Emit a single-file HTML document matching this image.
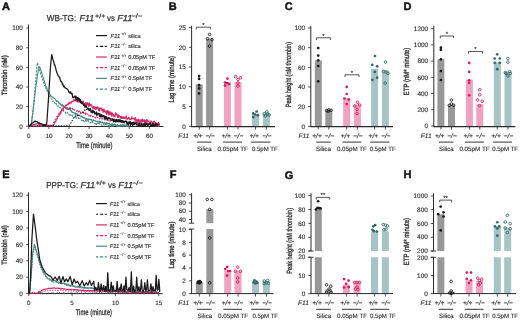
<!DOCTYPE html>
<html><head><meta charset="utf-8"><style>
html,body{margin:0;padding:0;background:#fff;overflow:hidden;}
svg{display:block;font-family:"Liberation Sans", sans-serif;will-change:transform;}
text{stroke:#333;stroke-width:0.15px;text-rendering:geometricPrecision;}
</style></head><body>
<svg width="520" height="320" viewBox="0 0 520 320">
<rect width="520" height="320" fill="#fff"/>
<text x="2" y="9.6" font-size="11" text-anchor="start" font-weight="bold" font-style="normal" fill="#111" style="stroke:#111;stroke-width:0.45px">A</text>
<text x="46.8" y="20.70" font-size="8.6" font-style="normal" fill="#333" textLength="29.4" lengthAdjust="spacingAndGlyphs" style="stroke-width:0.25px">WB-TG:</text>
<text x="79.6" y="20.70" font-size="8.6" font-style="italic" fill="#333" textLength="14.6" lengthAdjust="spacingAndGlyphs" style="stroke-width:0.25px">F11</text>
<text x="95.1" y="17.50" font-size="6.0" font-style="normal" fill="#333" textLength="10.3" lengthAdjust="spacingAndGlyphs" style="stroke-width:0.25px">+/+</text>
<text x="107.0" y="20.70" font-size="8.6" font-style="normal" fill="#333" textLength="7.9" lengthAdjust="spacingAndGlyphs" style="stroke-width:0.25px">vs</text>
<text x="117.2" y="20.70" font-size="8.6" font-style="italic" fill="#333" textLength="15.2" lengthAdjust="spacingAndGlyphs" style="stroke-width:0.25px">F11</text>
<text x="131.4" y="17.50" font-size="6.0" font-style="normal" fill="#333" textLength="11.0" lengthAdjust="spacingAndGlyphs" style="stroke-width:0.25px">−/−</text>
<line x1="28.50" y1="24.50" x2="28.50" y2="127.00" stroke="#2a2a2a" stroke-width="1"/>
<line x1="28.00" y1="126.50" x2="163.50" y2="126.50" stroke="#2a2a2a" stroke-width="1"/>
<line x1="26.20" y1="126.30" x2="28.50" y2="126.30" stroke="#2a2a2a" stroke-width="0.8"/>
<text x="22.8" y="128.5" font-size="6.4" text-anchor="end" font-weight="normal" font-style="normal" fill="#333">0</text>
<line x1="26.20" y1="106.66" x2="28.50" y2="106.66" stroke="#2a2a2a" stroke-width="0.8"/>
<text x="22.8" y="108.86" font-size="6.4" text-anchor="end" font-weight="normal" font-style="normal" fill="#333">20</text>
<line x1="26.20" y1="87.02" x2="28.50" y2="87.02" stroke="#2a2a2a" stroke-width="0.8"/>
<text x="22.8" y="89.22" font-size="6.4" text-anchor="end" font-weight="normal" font-style="normal" fill="#333">40</text>
<line x1="26.20" y1="67.38" x2="28.50" y2="67.38" stroke="#2a2a2a" stroke-width="0.8"/>
<text x="22.8" y="69.58" font-size="6.4" text-anchor="end" font-weight="normal" font-style="normal" fill="#333">60</text>
<line x1="26.20" y1="47.74" x2="28.50" y2="47.74" stroke="#2a2a2a" stroke-width="0.8"/>
<text x="22.8" y="49.94" font-size="6.4" text-anchor="end" font-weight="normal" font-style="normal" fill="#333">80</text>
<line x1="26.20" y1="28.10" x2="28.50" y2="28.10" stroke="#2a2a2a" stroke-width="0.8"/>
<text x="22.8" y="30.3" font-size="6.4" text-anchor="end" font-weight="normal" font-style="normal" fill="#333">100</text>
<line x1="28.80" y1="126.50" x2="28.80" y2="129.00" stroke="#2a2a2a" stroke-width="0.8"/>
<text x="28.8" y="138.2" font-size="6.2" text-anchor="middle" font-weight="normal" font-style="normal" fill="#333">0</text>
<line x1="48.90" y1="126.50" x2="48.90" y2="129.00" stroke="#2a2a2a" stroke-width="0.8"/>
<text x="48.9" y="138.2" font-size="6.2" text-anchor="middle" font-weight="normal" font-style="normal" fill="#333">10</text>
<line x1="69.00" y1="126.50" x2="69.00" y2="129.00" stroke="#2a2a2a" stroke-width="0.8"/>
<text x="69.0" y="138.2" font-size="6.2" text-anchor="middle" font-weight="normal" font-style="normal" fill="#333">20</text>
<line x1="89.10" y1="126.50" x2="89.10" y2="129.00" stroke="#2a2a2a" stroke-width="0.8"/>
<text x="89.1" y="138.2" font-size="6.2" text-anchor="middle" font-weight="normal" font-style="normal" fill="#333">30</text>
<line x1="109.20" y1="126.50" x2="109.20" y2="129.00" stroke="#2a2a2a" stroke-width="0.8"/>
<text x="109.19999999999999" y="138.2" font-size="6.2" text-anchor="middle" font-weight="normal" font-style="normal" fill="#333">40</text>
<line x1="129.30" y1="126.50" x2="129.30" y2="129.00" stroke="#2a2a2a" stroke-width="0.8"/>
<text x="129.29999999999998" y="138.2" font-size="6.2" text-anchor="middle" font-weight="normal" font-style="normal" fill="#333">50</text>
<line x1="149.40" y1="126.50" x2="149.40" y2="129.00" stroke="#2a2a2a" stroke-width="0.8"/>
<text x="149.4" y="138.2" font-size="6.2" text-anchor="middle" font-weight="normal" font-style="normal" fill="#333">60</text>
<text x="76.2" y="148.2" font-size="8.2" fill="#333" textLength="36.2" lengthAdjust="spacingAndGlyphs" style="stroke-width:0.3px">Time (minute)</text>
<text x="6.90" y="75.30" font-size="7.6" text-anchor="middle" fill="#333" transform="rotate(-90 6.90 75.30)" textLength="40" lengthAdjust="spacingAndGlyphs" style="stroke-width:0.36px">Thrombin (nM)</text>
<line x1="96.0" y1="35.60" x2="106.9" y2="35.60" stroke="#1a1a1a" stroke-width="1.2"/>
<text x="110.60" y="37.60" font-size="5.9" font-style="italic" fill="#333">F11</text>
<text x="120.90" y="35.10" font-size="4.0" fill="#333" style="stroke-width:0.1px">+/+</text>
<text x="128.30" y="37.55" font-size="5.6" fill="#333">silica</text>
<line x1="96.0" y1="46.30" x2="106.9" y2="46.30" stroke="#1a1a1a" stroke-width="1.2" stroke-dasharray="2.1,1.7,3.4,1.5,2.4,9"/>
<text x="110.60" y="48.30" font-size="5.9" font-style="italic" fill="#333">F11</text>
<text x="120.90" y="45.80" font-size="4.0" fill="#333" style="stroke-width:0.1px">−/−</text>
<text x="128.30" y="48.25" font-size="5.6" fill="#333">silica</text>
<line x1="96.0" y1="57.00" x2="106.9" y2="57.00" stroke="#d42a6c" stroke-width="1.2"/>
<text x="110.60" y="59.00" font-size="5.9" font-style="italic" fill="#333">F11</text>
<text x="120.90" y="56.50" font-size="4.0" fill="#333" style="stroke-width:0.1px">+/+</text>
<text x="128.30" y="58.95" font-size="5.6" fill="#333">0.05pM TF</text>
<line x1="96.0" y1="67.70" x2="106.9" y2="67.70" stroke="#d42a6c" stroke-width="1.2" stroke-dasharray="2.1,1.7,3.4,1.5,2.4,9"/>
<text x="110.60" y="69.70" font-size="5.9" font-style="italic" fill="#333">F11</text>
<text x="120.90" y="67.20" font-size="4.0" fill="#333" style="stroke-width:0.1px">−/−</text>
<text x="128.30" y="69.65" font-size="5.6" fill="#333">0.05pM TF</text>
<line x1="96.0" y1="78.40" x2="106.9" y2="78.40" stroke="#478a83" stroke-width="1.2"/>
<text x="110.60" y="80.40" font-size="5.9" font-style="italic" fill="#333">F11</text>
<text x="120.90" y="77.90" font-size="4.0" fill="#333" style="stroke-width:0.1px">+/+</text>
<text x="128.30" y="80.35" font-size="5.6" fill="#333">0.5pM TF</text>
<line x1="96.0" y1="89.10" x2="106.9" y2="89.10" stroke="#478a83" stroke-width="1.2" stroke-dasharray="2.1,1.7,3.4,1.5,2.4,9"/>
<text x="110.60" y="91.10" font-size="5.9" font-style="italic" fill="#333">F11</text>
<text x="120.90" y="88.60" font-size="4.0" fill="#333" style="stroke-width:0.1px">−/−</text>
<text x="128.30" y="91.05" font-size="5.6" fill="#333">0.5pM TF</text>
<polyline points="28.80,126.30 29.30,126.17 29.80,126.17 30.31,125.93 30.81,125.82 31.31,125.16 31.82,120.69 32.32,116.00 32.82,112.13 33.32,107.93 33.83,103.24 34.33,99.31 34.83,94.86 35.33,90.83 35.84,86.94 36.34,83.54 36.84,79.58 37.34,75.76 37.84,73.38 38.35,70.94 38.85,68.67 39.35,66.72 39.86,67.03 40.36,68.60 40.86,70.25 41.36,71.96 41.86,73.34 42.37,75.44 42.87,76.87 43.37,78.07 43.88,79.91 44.38,81.02 44.88,83.57 45.38,84.29 45.88,86.50 46.39,86.95 46.89,88.04 47.39,90.56 47.89,91.47 48.40,92.29 48.90,91.80 49.40,93.82 49.91,94.34 50.41,95.48 50.91,95.59 51.41,96.33 51.91,96.91 52.42,96.96 52.92,97.47 53.42,97.34 53.92,98.29 54.43,98.31 54.93,98.96 55.43,99.20 55.94,100.29 56.44,101.68 56.94,100.71 57.44,100.90 57.94,101.41 58.45,102.46 58.95,102.57 59.45,103.95 59.95,103.12 60.46,104.02 60.96,104.98 61.46,105.81 61.97,104.61 62.47,104.64 62.97,106.71 63.47,105.61 63.97,106.68 64.48,107.49 64.98,107.50 65.48,106.87 65.98,106.97 66.49,108.89 66.99,108.07 67.49,109.49 67.99,108.46 68.50,109.52 69.00,108.76 69.50,108.88 70.00,110.13 70.51,109.48 71.01,111.16 71.51,111.93 72.02,111.22 72.52,112.66 73.02,112.65 73.52,112.56 74.02,112.48 74.53,113.69 75.03,114.24 75.53,112.90 76.03,114.26 76.54,113.28 77.04,113.68 77.54,114.98 78.05,115.10 78.55,115.26 79.05,115.30 79.55,115.67 80.05,116.03 80.56,116.19 81.06,115.78 81.56,116.83 82.06,117.18 82.57,116.81 83.07,117.96 83.57,118.04 84.07,116.91 84.58,118.01 85.08,118.15 85.58,119.34 86.08,118.68 86.59,118.50 87.09,119.73 87.59,118.70 88.09,118.80 88.60,120.06 89.10,119.08 89.60,119.53 90.10,119.25 90.61,120.02 91.11,119.46 91.61,119.54 92.11,121.08 92.62,121.14 93.12,120.06 93.62,119.60 94.12,121.10 94.63,120.80 95.13,120.63 95.63,121.27 96.13,121.28 96.64,121.48 97.14,121.47 97.64,121.13 98.14,121.81 98.65,121.76 99.15,121.09 99.65,122.65 100.15,121.69 100.66,121.48 101.16,122.43 101.66,122.71 102.16,121.68 102.67,122.91 103.17,123.12 103.67,122.75 104.17,122.34 104.68,123.63 105.18,123.31 105.68,123.40 106.18,122.53 106.69,123.42 107.19,122.71 107.69,124.17 108.19,123.96 108.70,123.45 109.20,123.10 109.70,124.07 110.20,124.61 110.71,124.89 111.21,124.16 111.71,124.90 112.21,123.76 112.72,123.77 113.22,125.13 113.72,125.02 114.22,124.06 114.73,124.45 115.23,124.21 115.73,125.18 116.23,125.68 116.74,125.44 117.24,124.52 117.74,125.63 118.24,125.55 118.75,125.49 119.25,125.55 119.75,125.65 120.25,124.69 120.76,126.21 121.26,126.30 121.76,124.70 122.26,124.84 122.77,124.64 123.27,125.75 123.77,124.75 124.27,124.81 124.78,126.21 125.28,125.20 125.78,125.04 126.28,125.39 126.79,125.69 127.29,126.16 127.79,126.07 128.29,126.30 128.80,126.30 129.30,125.63" fill="none" stroke="#478a83" stroke-width="1.1" stroke-linejoin="round"/>
<polyline points="28.80,126.30 29.30,126.30 29.80,126.14 30.31,126.17 30.81,126.11 31.31,123.66 31.82,119.74 32.32,116.30 32.82,112.82 33.32,108.84 33.83,103.82 34.33,98.81 34.83,92.37 35.33,85.90 35.84,79.33 36.34,73.51 36.84,68.17 37.34,62.78 37.84,63.36 38.35,65.79 38.85,67.80 39.35,69.59 39.86,71.15 40.36,72.70 40.86,74.30 41.36,76.34 41.86,77.48 42.37,78.90 42.87,80.44 43.37,82.54 43.88,83.41 44.38,85.62 44.88,85.25 45.38,86.56 45.88,88.35 46.39,90.01 46.89,89.98 47.39,91.81 47.89,92.37 48.40,93.61 48.90,95.45 49.40,96.30 49.91,96.59 50.41,97.58 50.91,98.77 51.41,99.15 51.91,98.82 52.42,100.99 52.92,101.64 53.42,101.17 53.92,102.51 54.43,102.54 54.93,103.10 55.43,103.80 55.94,102.95 56.44,104.97 56.94,104.99 57.44,105.84 57.94,105.44 58.45,106.58 58.95,106.86 59.45,106.54 59.95,107.82 60.46,107.78 60.96,107.53 61.46,109.53 61.97,110.03 62.47,110.12 62.97,109.49 63.47,110.21 63.97,111.37 64.48,111.61 64.98,112.34 65.48,112.21 65.98,113.45 66.49,112.44 66.99,112.32 67.49,112.48 67.99,113.19 68.50,113.02 69.00,115.15 69.50,114.89 70.00,113.84 70.51,114.49 71.01,115.48 71.51,114.63 72.02,115.46 72.52,115.27 73.02,116.50 73.52,116.90 74.02,116.60 74.53,117.40 75.03,117.12 75.53,116.17 76.03,117.61 76.54,118.44 77.04,118.57 77.54,118.52 78.05,117.51 78.55,118.54 79.05,118.87 79.55,119.45 80.05,117.91 80.56,119.20 81.06,119.81 81.56,120.30 82.06,120.50 82.57,120.48 83.07,119.67 83.57,120.90 84.07,121.31 84.58,120.62 85.08,121.29 85.58,119.94 86.08,121.78 86.59,121.10 87.09,120.74 87.59,121.58 88.09,120.56 88.60,121.68 89.10,122.26 89.60,122.05 90.10,122.90 90.61,122.27 91.11,122.73 91.61,121.59 92.11,121.82 92.62,122.59 93.12,123.63 93.62,123.31 94.12,123.45 94.63,123.64 95.13,123.71 95.63,122.58 96.13,124.13 96.64,124.42 97.14,122.82 97.64,123.65 98.14,122.94 98.65,124.21 99.15,123.35 99.65,123.91 100.15,123.71 100.66,123.87 101.16,124.43 101.66,125.28 102.16,125.12 102.67,123.89 103.17,123.90 103.67,123.92 104.17,125.15 104.68,124.59 105.18,124.38 105.68,124.75 106.18,124.48 106.69,125.12 107.19,124.94 107.69,124.94 108.19,125.83 108.70,124.62 109.20,124.62 109.70,126.30 110.20,124.61 110.71,124.64 111.21,125.22 111.71,126.30 112.21,124.79 112.72,126.30 113.22,124.67 113.72,125.27 114.22,126.30 114.73,126.28 115.23,125.37 115.73,125.51 116.23,125.17 116.74,124.82 117.24,126.22 117.74,126.30 118.24,124.86 118.75,126.30 119.25,124.97 119.75,126.30 120.25,125.12 120.76,125.18 121.26,125.01 121.76,125.66 122.26,125.03 122.77,126.30 123.27,125.45 123.77,126.13 124.27,125.04 124.78,125.28 125.28,125.88 125.78,125.79 126.28,126.30 126.79,126.30 127.29,125.68 127.79,125.90 128.29,125.17 128.80,125.69 129.30,126.30" fill="none" stroke="#478a83" stroke-width="1.15" stroke-linejoin="round" stroke-dasharray="2,1.3"/>
<polyline points="28.80,126.23 29.30,126.15 29.80,126.11 30.31,126.01 30.81,126.12 31.31,126.00 31.82,126.30 32.32,126.25 32.82,125.96 33.32,126.12 33.83,125.96 34.33,126.30 34.83,126.20 35.33,126.30 35.84,126.13 36.34,126.10 36.84,126.30 37.34,126.29 37.84,126.25 38.35,125.86 38.85,125.94 39.35,126.29 39.86,125.90 40.36,126.28 40.86,125.99 41.36,126.26 41.86,126.30 42.37,125.80 42.87,126.18 43.37,126.17 43.88,125.71 44.38,125.76 44.88,126.10 45.38,125.69 45.88,125.93 46.39,125.84 46.89,126.11 47.39,125.66 47.89,125.80 48.40,125.63 48.90,125.66 49.40,126.00 49.91,125.95 50.41,126.06 50.91,126.06 51.41,126.10 51.91,125.95 52.42,125.76 52.92,126.10 53.42,123.62 53.92,122.22 54.43,121.36 54.93,120.18 55.43,119.51 55.94,118.73 56.44,117.76 56.94,116.76 57.44,116.26 57.94,114.85 58.45,114.54 58.95,113.38 59.45,112.83 59.95,112.81 60.46,111.86 60.96,111.61 61.46,110.98 61.97,110.81 62.47,110.29 62.97,109.71 63.47,108.75 63.97,108.88 64.48,108.49 64.98,108.33 65.48,107.74 65.98,108.74 66.49,108.66 66.99,108.30 67.49,107.80 67.99,108.92 68.50,107.73 69.00,107.67 69.50,107.71 70.00,109.31 70.51,107.86 71.01,109.52 71.51,109.23 72.02,108.90 72.52,108.51 73.02,109.68 73.52,108.80 74.02,109.62 74.53,110.18 75.03,110.32 75.53,110.74 76.03,111.09 76.54,111.14 77.04,110.35 77.54,109.98 78.05,111.63 78.55,112.00 79.05,110.51 79.55,111.49 80.05,111.88 80.56,112.35 81.06,111.89 81.56,111.67 82.06,112.51 82.57,112.75 83.07,113.58 83.57,112.25 84.07,113.99 84.58,113.36 85.08,112.94 85.58,114.40 86.08,113.55 86.59,113.37 87.09,114.15 87.59,114.08 88.09,115.49 88.60,115.12 89.10,115.84 89.60,114.82 90.10,116.00 90.61,115.93 91.11,115.18 91.61,115.65 92.11,115.64 92.62,116.70 93.12,116.77 93.62,116.48 94.12,117.06 94.63,117.53 95.13,117.47 95.63,118.06 96.13,117.79 96.64,116.84 97.14,117.03 97.64,117.76 98.14,118.12 98.65,118.54 99.15,119.12 99.65,118.93 100.15,118.16 100.66,118.15 101.16,119.18 101.66,118.52 102.16,118.63 102.67,118.87 103.17,119.01 103.67,118.94 104.17,119.73 104.68,119.22 105.18,120.06 105.68,119.79 106.18,119.38 106.69,119.61 107.19,120.40 107.69,119.34 108.19,119.96 108.70,120.17 109.20,121.27 109.70,120.39 110.20,120.97 110.71,120.29 111.21,120.72 111.71,120.16 112.21,120.52 112.72,120.31 113.22,121.17 113.72,120.71 114.22,120.60 114.73,120.50 115.23,121.41 115.73,120.60 116.23,120.61 116.74,121.00 117.24,120.55 117.74,120.64 118.24,121.48 118.75,121.52 119.25,122.23 119.75,121.10 120.25,120.99 120.76,121.86 121.26,121.54 121.76,121.55 122.26,121.60 122.77,122.65 123.27,121.63 123.77,122.04 124.27,121.96 124.78,122.45 125.28,122.15 125.78,121.95 126.28,122.25 126.79,122.17 127.29,123.45 127.79,123.28 128.29,122.84 128.80,122.54 129.30,123.36 129.80,122.58 130.31,122.72 130.81,123.80 131.31,123.08 131.81,123.56 132.31,123.90 132.82,123.80 133.32,123.52 133.82,123.80 134.32,123.82 134.83,124.14 135.33,123.43 135.83,123.62 136.33,123.25 136.84,123.33 137.34,123.99 137.84,122.86 138.34,124.50 138.85,123.82 139.35,124.09 139.85,123.90 140.35,124.46 140.86,123.24 141.36,124.09 141.86,124.73 142.36,123.75 142.87,124.71 143.37,123.95 143.87,124.36 144.38,123.97 144.88,123.35 145.38,123.64 145.88,124.38 146.38,123.73 146.89,124.07 147.39,124.60 147.89,125.04 148.39,124.28 148.90,124.38 149.40,123.72 149.90,123.74 150.41,124.42 150.91,124.91 151.41,123.99 151.91,125.61 152.41,125.46 152.92,124.69 153.42,124.64 153.92,125.52 154.42,124.70 154.93,124.27 155.43,125.22 155.93,125.16 156.44,125.57 156.94,125.49 157.44,124.33 157.94,125.41 158.44,124.42 158.95,124.55 159.45,125.15" fill="none" stroke="#d42a6c" stroke-width="1.15" stroke-linejoin="round" stroke-dasharray="2,1.3"/>
<polyline points="28.80,126.07 29.24,125.89 29.68,125.99 30.13,126.00 30.57,126.04 31.01,125.36 31.45,125.35 31.90,124.96 32.34,125.10 32.78,124.63 33.22,124.91 33.66,124.38 34.11,124.33 34.55,124.47 34.99,124.27 35.43,124.05 35.88,124.32 36.32,123.93 36.76,123.62 37.20,124.12 37.64,123.80 38.09,124.00 38.53,123.99 38.97,124.49 39.41,124.79 39.86,124.35 40.30,124.45 40.74,124.84 41.18,125.20 41.62,125.20 42.07,124.93 42.51,125.27 42.95,124.83 43.39,125.19 43.83,125.57 44.28,125.29 44.72,125.60 45.16,125.17 45.60,125.19 46.05,125.50 46.49,125.40 46.93,125.36 47.37,125.27 47.81,125.14 48.26,125.88 48.70,125.62 49.14,125.43 49.58,125.67 50.03,125.44 50.47,125.84 50.91,125.22 51.35,125.49 51.79,125.82 52.24,125.39 52.68,125.50 53.12,125.16 53.56,124.51 54.01,124.18 54.45,123.44 54.89,122.24 55.33,121.68 55.77,121.53 56.22,120.13 56.66,119.86 57.10,119.01 57.54,116.80 57.99,116.62 58.43,116.60 58.87,115.68 59.31,114.90 59.75,114.76 60.20,112.02 60.64,113.63 61.08,112.14 61.52,110.77 61.97,110.97 62.41,108.98 62.85,110.11 63.29,107.84 63.73,107.50 64.18,107.49 64.62,106.43 65.06,106.93 65.50,105.49 65.94,105.03 66.39,105.31 66.83,105.06 67.27,104.15 67.71,104.48 68.16,104.89 68.60,102.97 69.04,103.75 69.48,102.96 69.92,101.99 70.37,103.16 70.81,103.25 71.25,102.74 71.69,101.37 72.14,101.64 72.58,101.71 73.02,101.09 73.46,99.82 73.90,101.25 74.35,100.73 74.79,99.47 75.23,100.06 75.67,100.97 76.12,100.58 76.56,100.68 77.00,101.57 77.44,101.36 77.88,101.77 78.33,99.79 78.77,102.08 79.21,100.85 79.65,99.72 80.10,100.14 80.54,102.72 80.98,101.88 81.42,103.22 81.86,103.00 82.31,102.73 82.75,101.53 83.19,101.03 83.63,103.94 84.07,105.29 84.52,103.49 84.96,105.30 85.40,105.58 85.84,102.54 86.29,105.57 86.73,103.12 87.17,104.83 87.61,102.51 88.05,103.05 88.50,106.65 88.94,106.26 89.38,103.17 89.82,104.78 90.27,105.78 90.71,104.40 91.15,104.44 91.59,106.00 92.03,106.27 92.48,108.05 92.92,107.11 93.36,108.24 93.80,106.36 94.25,106.63 94.69,108.82 95.13,106.92 95.57,109.40 96.01,109.56 96.46,107.42 96.90,108.40 97.34,106.70 97.78,108.06 98.23,107.94 98.67,110.62 99.11,107.76 99.55,111.17 99.99,109.04 100.44,107.94 100.88,108.13 101.32,108.37 101.76,110.45 102.21,109.58 102.65,109.33 103.09,112.33 103.53,109.02 103.97,109.35 104.42,111.54 104.86,110.26 105.30,111.86 105.74,112.77 106.18,111.06 106.63,114.06 107.07,111.10 107.51,110.55 107.95,113.75 108.40,111.14 108.84,115.06 109.28,111.93 109.72,114.64 110.16,111.85 110.61,114.26 111.05,112.24 111.49,116.19 111.93,116.05 112.38,112.99 112.82,113.86 113.26,114.41 113.70,116.68 114.14,116.17 114.59,115.42 115.03,116.89 115.47,112.93 115.91,114.01 116.36,113.31 116.80,114.49 117.24,116.13 117.68,117.38 118.12,114.65 118.57,117.42 119.01,115.65 119.45,116.11 119.89,116.07 120.34,117.99 120.78,118.11 121.22,116.29 121.66,118.52 122.10,116.49 122.55,118.22 122.99,117.76 123.43,118.44 123.87,116.74 124.32,117.63 124.76,118.46 125.20,118.57 125.64,117.20 126.08,115.82 126.53,118.05 126.97,119.27 127.41,118.71 127.85,119.15 128.29,117.83 128.74,117.01 129.18,118.06 129.62,119.82 130.06,119.33 130.51,119.18 130.95,119.01 131.39,119.29 131.83,116.79 132.27,118.81 132.72,118.42 133.16,118.28 133.60,118.67 134.04,118.07 134.49,120.03 134.93,118.85 135.37,117.62 135.81,121.21 136.25,119.30 136.70,120.43 137.14,121.92 137.58,122.11 138.02,119.09 138.47,121.96 138.91,119.48 139.35,122.21 139.79,121.14 140.23,122.67 140.68,120.53 141.12,119.55 141.56,122.04 142.00,120.64 142.45,119.17 142.89,121.96 143.33,121.26 143.77,120.23 144.21,119.70 144.66,122.77 145.10,120.71 145.54,123.12 145.98,123.22 146.43,119.53 146.87,123.63 147.31,119.94 147.75,120.74 148.19,121.13 148.64,120.97 149.08,121.38 149.52,123.02 149.96,122.41 150.40,123.56 150.85,120.82 151.29,121.27 151.73,121.33 152.17,123.92 152.62,122.38 153.06,123.94 153.50,121.73 153.94,122.03 154.38,121.05 154.83,122.40 155.27,122.60 155.71,122.30 156.15,125.36 156.60,123.29 157.04,125.83 157.48,124.48 157.92,125.67 158.36,122.28 158.81,126.30 159.25,122.89" fill="none" stroke="#d42a6c" stroke-width="1.2" stroke-linejoin="round"/>
<polyline points="28.80,126.07 29.30,126.14 29.80,125.94 30.31,126.17 30.81,125.98 31.31,126.05 31.82,126.16 32.32,125.99 32.82,126.17 33.32,126.01 33.83,126.15 34.33,126.14 34.83,126.01 35.33,125.84 35.84,126.12 36.34,126.08 36.84,125.92 37.34,125.79 37.84,125.93 38.35,126.00 38.85,125.77 39.35,126.13 39.86,125.81 40.36,126.03 40.86,126.09 41.36,126.09 41.86,126.02 42.37,125.81 42.87,126.06 43.37,125.90 43.88,125.88 44.38,125.98 44.88,125.91 45.38,126.10 45.88,126.09 46.39,126.03 46.89,125.85 47.39,125.94 47.89,125.98 48.40,125.88 48.90,125.92 49.40,125.98 49.91,125.79 50.41,125.82 50.91,126.00 51.41,125.86 51.91,125.88 52.42,125.74 52.92,125.80 53.42,125.97 53.92,125.69 54.43,126.03 54.93,125.91 55.43,125.77 55.94,126.01 56.44,125.87 56.94,126.05 57.44,125.80 57.94,125.76 58.45,125.83 58.95,125.71 59.45,125.93 59.95,125.77 60.46,125.81 60.96,125.82 61.46,125.86 61.97,125.71 62.47,125.66 62.97,125.85 63.47,125.77 63.97,126.00 64.48,125.75 64.98,125.77 65.48,125.63 65.98,125.70 66.49,125.90 66.99,125.86 67.49,125.75 67.99,126.00 68.50,125.82 69.00,125.43 69.50,124.80 70.00,124.18 70.51,123.26 71.01,122.87 71.51,121.99 72.02,120.97 72.52,119.82 73.02,119.17 73.52,118.12 74.02,117.28 74.53,116.48 75.03,116.32 75.53,115.98 76.03,116.63 76.54,116.15 77.04,115.97 77.54,114.87 78.05,114.49 78.55,115.49 79.05,115.18 79.55,114.82 80.05,114.55 80.56,113.80 81.06,113.23 81.56,113.33 82.06,113.33 82.57,112.27 83.07,111.94 83.57,111.22 84.07,110.20 84.58,110.21 85.08,110.07 85.58,109.50 86.08,109.00 86.59,109.78 87.09,108.38 87.59,108.51 88.09,108.29 88.60,108.35 89.10,108.92 89.60,108.85 90.10,109.25 90.61,108.71 91.11,109.90 91.61,110.19 92.11,110.26 92.62,110.63 93.12,110.64 93.62,111.39 94.12,111.77 94.63,111.82 95.13,112.20 95.63,112.07 96.13,112.89 96.64,111.84 97.14,112.54 97.64,113.55 98.14,113.68 98.65,113.81 99.15,114.07 99.65,114.74 100.15,113.89 100.66,113.95 101.16,115.06 101.66,115.25 102.16,116.09 102.67,116.28 103.17,116.11 103.67,116.45 104.17,115.78 104.68,117.04 105.18,117.47 105.68,116.23 106.18,117.11 106.69,117.93 107.19,117.52 107.69,118.54 108.19,117.97 108.70,117.48 109.20,117.87 109.70,118.26 110.20,119.06 110.71,119.02 111.21,119.46 111.71,118.63 112.21,119.13 112.72,118.86 113.22,119.69 113.72,119.98 114.22,119.18 114.73,119.03 115.23,119.36 115.73,119.56 116.23,119.66 116.74,119.91 117.24,120.84 117.74,120.50 118.24,120.88 118.75,121.52 119.25,121.64 119.75,121.32 120.25,121.42 120.76,120.82 121.26,120.48 121.76,121.35 122.26,120.65 122.77,120.65 123.27,120.77 123.77,121.77 124.27,122.07 124.78,122.14 125.28,122.26 125.78,122.32 126.28,121.74 126.79,121.37 127.29,121.54 127.79,122.18 128.29,121.98 128.80,121.83 129.30,123.02 129.80,122.17 130.31,121.83 130.81,122.08 131.31,122.18 131.81,122.65 132.31,123.17 132.82,122.26 133.32,123.03 133.82,122.34 134.32,122.12 134.83,123.08 135.33,123.12 135.83,122.31 136.33,122.71 136.84,123.63 137.34,123.74 137.84,123.75 138.34,122.62 138.85,122.82 139.35,123.91 139.85,122.89 140.35,122.70 140.86,123.25 141.36,123.79 141.86,123.52 142.36,124.23 142.87,124.46 143.37,123.01 143.87,123.56 144.38,123.80 144.88,123.21 145.38,124.05 145.88,123.41 146.38,123.53 146.89,124.54 147.39,124.53 147.89,124.51 148.39,124.65 148.90,124.15 149.40,124.71 149.90,124.49 150.41,124.96 150.91,123.77 151.41,124.66 151.91,124.52 152.41,124.35 152.92,123.87 153.42,124.66 153.92,123.90 154.42,124.58 154.93,124.56 155.43,124.59 155.93,125.41 156.44,124.77 156.94,125.20 157.44,125.51 157.94,124.28 158.44,125.29 158.95,124.84 159.45,124.47" fill="none" stroke="#1a1a1a" stroke-width="1.2" stroke-linejoin="round" stroke-dasharray="1.3,1.5"/>
<polyline points="28.80,126.30 29.24,125.50 29.68,125.73 30.13,124.84 30.57,124.90 31.01,124.34 31.45,123.32 31.90,123.53 32.34,122.89 32.78,122.73 33.22,122.44 33.66,122.10 34.11,122.04 34.55,121.24 34.99,121.52 35.43,121.11 35.88,121.53 36.32,121.59 36.76,121.73 37.20,121.60 37.64,122.26 38.09,122.73 38.53,122.87 38.97,122.53 39.41,123.44 39.86,123.19 40.30,123.56 40.74,123.52 41.18,123.96 41.62,123.86 42.07,124.20 42.51,124.26 42.95,124.23 43.39,124.56 43.83,124.99 44.28,125.13 44.72,124.52 45.16,124.96 45.60,125.27 46.05,124.76 46.49,124.05 46.93,121.11 47.37,114.51 47.81,108.50 48.26,101.96 48.70,94.91 49.14,88.29 49.58,80.59 50.03,73.92 50.47,66.64 50.91,62.31 51.35,57.80 51.79,54.63 52.24,56.46 52.68,58.26 53.12,60.27 53.56,61.08 54.01,62.67 54.45,65.08 54.89,65.00 55.33,67.33 55.77,68.47 56.22,70.61 56.66,71.76 57.10,73.42 57.54,73.96 57.99,75.28 58.43,75.86 58.87,76.83 59.31,76.82 59.75,77.59 60.20,79.89 60.64,80.43 61.08,81.85 61.52,81.85 61.97,82.21 62.41,84.52 62.85,84.06 63.29,85.63 63.73,86.84 64.18,86.01 64.62,87.31 65.06,87.98 65.50,87.79 65.94,88.52 66.39,88.50 66.83,88.76 67.27,89.15 67.71,89.14 68.16,90.23 68.60,91.14 69.04,92.42 69.48,92.87 69.92,91.85 70.37,93.10 70.81,92.09 71.25,93.89 71.69,93.80 72.14,93.45 72.58,97.25 73.02,97.72 73.46,97.56 73.90,96.95 74.35,96.55 74.79,96.22 75.23,97.98 75.67,96.00 76.12,99.89 76.56,97.08 77.00,99.72 77.44,97.54 77.88,100.99 78.33,97.82 78.77,98.93 79.21,98.41 79.65,100.28 80.10,102.12 80.54,99.51 80.98,101.82 81.42,103.50 81.86,101.90 82.31,102.64 82.75,103.07 83.19,104.69 83.63,105.46 84.07,104.39 84.52,105.52 84.96,107.39 85.40,106.63 85.84,105.88 86.29,106.24 86.73,107.47 87.17,108.08 87.61,108.53 88.05,109.35 88.50,109.78 88.94,109.17 89.38,110.75 89.82,108.77 90.27,109.16 90.71,109.84 91.15,112.36 91.59,111.40 92.03,111.47 92.48,113.01 92.92,110.01 93.36,111.07 93.80,112.28 94.25,111.79 94.69,113.94 95.13,114.09 95.57,113.25 96.01,112.71 96.46,113.33 96.90,115.99 97.34,113.99 97.78,113.15 98.23,114.04 98.67,113.61 99.11,113.68 99.55,116.68 99.99,116.58 100.44,115.81 100.88,114.38 101.32,116.81 101.76,114.84 102.21,115.35 102.65,116.77 103.09,116.53 103.53,115.46 103.97,116.27 104.42,118.26 104.86,116.38 105.30,118.97 105.74,118.49 106.18,116.46 106.63,117.04 107.07,119.21 107.51,119.46 107.95,118.42 108.40,117.73 108.84,118.49 109.28,117.72 109.72,118.66 110.16,118.45 110.61,119.34 111.05,120.32 111.49,120.15 111.93,120.00 112.38,119.93 112.82,118.86 113.26,121.06 113.70,121.88 114.14,119.48 114.59,121.28 115.03,120.81 115.47,122.01 115.91,119.43 116.36,121.58 116.80,121.59 117.24,119.76 117.68,120.96 118.12,121.88 118.57,119.68 119.01,121.54 119.45,121.80 119.89,119.62 120.34,120.37 120.78,120.64 121.22,122.60 121.66,120.61 122.10,121.52 122.55,120.76 122.99,122.59 123.43,121.15 123.87,121.21 124.32,122.83 124.76,121.94 125.20,121.58 125.64,120.89 126.08,121.26 126.53,121.87 126.97,124.40 127.41,122.74 127.85,122.57 128.29,124.90 128.74,123.61 129.18,122.20 129.62,122.17 130.06,122.18 130.51,125.33 130.95,123.45 131.39,122.53 131.83,123.37 132.27,124.65 132.72,125.74 133.16,122.50 133.60,122.77 134.04,123.58 134.49,124.69 134.93,123.01 135.37,123.11 135.81,123.49 136.25,124.00 136.70,125.08 137.14,125.21 137.58,125.03 138.02,125.19 138.47,124.51 138.91,126.07 139.35,123.84 139.79,125.28 140.23,126.01 140.68,125.67 141.12,125.18 141.56,125.04 142.00,123.74 142.45,126.30 142.89,125.86 143.33,125.61 143.77,126.05 144.21,123.93 144.66,126.30 145.10,126.30 145.54,124.69 145.98,124.04 146.43,123.72 146.87,124.72 147.31,125.60 147.75,123.55 148.19,124.10 148.64,125.08 149.08,124.78 149.52,123.40 149.96,123.19 150.40,123.45 150.85,126.30 151.29,125.74 151.73,125.45 152.17,126.30 152.62,124.16 153.06,126.30 153.50,123.72 153.94,124.86 154.38,124.77 154.83,125.53 155.27,123.60 155.71,124.95 156.15,123.78 156.60,123.70 157.04,124.57 157.48,123.50" fill="none" stroke="#1a1a1a" stroke-width="1.25" stroke-linejoin="round"/>
<text x="168.8" y="9.7" font-size="11" text-anchor="start" font-weight="bold" font-style="normal" fill="#111" style="stroke:#111;stroke-width:0.45px">B</text>
<rect x="195.70" y="84.43" width="7.00" height="41.87" fill="#989898"/>
<rect x="206.10" y="38.61" width="7.00" height="87.69" fill="#989898"/>
<rect x="223.90" y="82.06" width="7.00" height="44.24" fill="#f0a2bf"/>
<rect x="234.50" y="82.06" width="7.00" height="44.24" fill="#f0a2bf"/>
<rect x="252.00" y="113.66" width="7.00" height="12.64" fill="#a5c4c3"/>
<rect x="262.90" y="113.46" width="7.00" height="12.84" fill="#a5c4c3"/>
<circle cx="199.10" cy="76.10" r="1.35" fill="#1a1a1a"/>
<circle cx="199.10" cy="78.90" r="1.35" fill="#1a1a1a"/>
<circle cx="199.10" cy="85.20" r="1.35" fill="#1a1a1a"/>
<circle cx="199.10" cy="88.30" r="1.35" fill="#1a1a1a"/>
<circle cx="199.10" cy="93.40" r="1.35" fill="#1a1a1a"/>
<circle cx="209.60" cy="34.40" r="1.30" fill="none" stroke="#1a1a1a" stroke-width="0.85"/>
<circle cx="207.50" cy="38.75" r="1.30" fill="none" stroke="#1a1a1a" stroke-width="0.85"/>
<circle cx="212.00" cy="39.70" r="1.30" fill="none" stroke="#1a1a1a" stroke-width="0.85"/>
<circle cx="209.50" cy="46.10" r="1.30" fill="none" stroke="#1a1a1a" stroke-width="0.85"/>
<circle cx="227.40" cy="78.60" r="1.35" fill="#d81b60"/>
<circle cx="225.10" cy="82.50" r="1.35" fill="#d81b60"/>
<circle cx="227.20" cy="83.00" r="1.35" fill="#d81b60"/>
<circle cx="229.00" cy="84.10" r="1.35" fill="#d81b60"/>
<circle cx="225.10" cy="85.60" r="1.35" fill="#d81b60"/>
<circle cx="235.60" cy="76.60" r="1.30" fill="none" stroke="#d81b60" stroke-width="0.85"/>
<circle cx="240.50" cy="77.80" r="1.30" fill="none" stroke="#d81b60" stroke-width="0.85"/>
<circle cx="238.00" cy="79.40" r="1.30" fill="none" stroke="#d81b60" stroke-width="0.85"/>
<circle cx="238.00" cy="82.90" r="1.30" fill="none" stroke="#d81b60" stroke-width="0.85"/>
<circle cx="238.00" cy="86.00" r="1.30" fill="none" stroke="#d81b60" stroke-width="0.85"/>
<circle cx="256.60" cy="111.50" r="1.35" fill="#2e6964"/>
<circle cx="253.30" cy="113.40" r="1.35" fill="#2e6964"/>
<circle cx="255.10" cy="114.50" r="1.35" fill="#2e6964"/>
<circle cx="257.80" cy="115.30" r="1.35" fill="#2e6964"/>
<circle cx="253.30" cy="117.20" r="1.35" fill="#2e6964"/>
<circle cx="266.80" cy="111.90" r="1.30" fill="none" stroke="#2e6964" stroke-width="0.85"/>
<circle cx="264.20" cy="113.80" r="1.30" fill="none" stroke="#2e6964" stroke-width="0.85"/>
<circle cx="269.00" cy="114.90" r="1.30" fill="none" stroke="#2e6964" stroke-width="0.85"/>
<circle cx="265.30" cy="116.00" r="1.30" fill="none" stroke="#2e6964" stroke-width="0.85"/>
<circle cx="267.50" cy="113.80" r="1.30" fill="none" stroke="#2e6964" stroke-width="0.85"/>
<line x1="191.60" y1="25.80" x2="191.60" y2="126.80" stroke="#2a2a2a" stroke-width="1"/>
<line x1="188.90" y1="126.30" x2="191.60" y2="126.30" stroke="#2a2a2a" stroke-width="0.85"/>
<text x="185.85" y="128.5" font-size="6.4" text-anchor="end" font-weight="normal" font-style="normal" fill="#333">0</text>
<line x1="188.90" y1="106.55" x2="191.60" y2="106.55" stroke="#2a2a2a" stroke-width="0.85"/>
<text x="185.85" y="108.75" font-size="6.4" text-anchor="end" font-weight="normal" font-style="normal" fill="#333">5</text>
<line x1="188.90" y1="86.80" x2="191.60" y2="86.80" stroke="#2a2a2a" stroke-width="0.85"/>
<text x="185.85" y="89.0" font-size="6.4" text-anchor="end" font-weight="normal" font-style="normal" fill="#333">10</text>
<line x1="188.90" y1="67.05" x2="191.60" y2="67.05" stroke="#2a2a2a" stroke-width="0.85"/>
<text x="185.85" y="69.25" font-size="6.4" text-anchor="end" font-weight="normal" font-style="normal" fill="#333">15</text>
<line x1="188.90" y1="47.30" x2="191.60" y2="47.30" stroke="#2a2a2a" stroke-width="0.85"/>
<text x="185.85" y="49.5" font-size="6.4" text-anchor="end" font-weight="normal" font-style="normal" fill="#333">20</text>
<line x1="188.90" y1="27.55" x2="191.60" y2="27.55" stroke="#2a2a2a" stroke-width="0.85"/>
<text x="185.85" y="29.75" font-size="6.4" text-anchor="end" font-weight="normal" font-style="normal" fill="#333">25</text>
<line x1="191.00" y1="126.60" x2="275.00" y2="126.60" stroke="#2a2a2a" stroke-width="1.1"/>
<polyline points="196.3,29.4 196.3,27.2 210.6,27.2 210.6,29.4" fill="none" stroke="#2a2a2a" stroke-width="0.8"/>
<text x="203.45" y="27.0" font-size="6" text-anchor="middle" font-weight="normal" font-style="normal" fill="#333">*</text>
<text x="173.80" y="79.30" font-size="7.6" text-anchor="middle" fill="#333" transform="rotate(-90 173.80 79.30)" textLength="46.5" lengthAdjust="spacingAndGlyphs" style="stroke-width:0.36px">Lag time (minute)</text>
<text x="189.00" y="137.70" font-size="6.6" font-style="italic" text-anchor="end" fill="#333">F11</text>
<text x="197.9" y="137.7" font-size="6.5" text-anchor="middle" font-weight="normal" font-style="italic" fill="#333">+/+</text>
<line x1="199.20" y1="126.60" x2="199.20" y2="129.60" stroke="#2a2a2a" stroke-width="0.8"/>
<text x="210.1" y="137.7" font-size="6.5" text-anchor="middle" font-weight="normal" font-style="italic" fill="#333">−/−</text>
<line x1="209.60" y1="126.60" x2="209.60" y2="129.60" stroke="#2a2a2a" stroke-width="0.8"/>
<text x="226.1" y="137.7" font-size="6.5" text-anchor="middle" font-weight="normal" font-style="italic" fill="#333">+/+</text>
<line x1="227.40" y1="126.60" x2="227.40" y2="129.60" stroke="#2a2a2a" stroke-width="0.8"/>
<text x="238.5" y="137.7" font-size="6.5" text-anchor="middle" font-weight="normal" font-style="italic" fill="#333">−/−</text>
<line x1="238.00" y1="126.60" x2="238.00" y2="129.60" stroke="#2a2a2a" stroke-width="0.8"/>
<text x="254.2" y="137.7" font-size="6.5" text-anchor="middle" font-weight="normal" font-style="italic" fill="#333">+/+</text>
<line x1="255.50" y1="126.60" x2="255.50" y2="129.60" stroke="#2a2a2a" stroke-width="0.8"/>
<text x="266.9" y="137.7" font-size="6.5" text-anchor="middle" font-weight="normal" font-style="italic" fill="#333">−/−</text>
<line x1="266.40" y1="126.60" x2="266.40" y2="129.60" stroke="#2a2a2a" stroke-width="0.8"/>
<line x1="197.10" y1="142.10" x2="211.50" y2="142.10" stroke="#2a2a2a" stroke-width="0.95"/>
<text x="197.0" y="150.90" font-size="6.2" fill="#333" textLength="14.6" lengthAdjust="spacingAndGlyphs">Silica</text>
<line x1="223.10" y1="142.10" x2="242.00" y2="142.10" stroke="#2a2a2a" stroke-width="0.95"/>
<text x="217.6" y="150.90" font-size="6.2" fill="#333" textLength="30.2" lengthAdjust="spacingAndGlyphs">0.05pM TF</text>
<line x1="251.20" y1="142.10" x2="270.40" y2="142.10" stroke="#2a2a2a" stroke-width="0.95"/>
<text x="252.0" y="150.90" font-size="6.2" fill="#333" textLength="25.6" lengthAdjust="spacingAndGlyphs">0.5pM TF</text>
<text x="284.8" y="10.2" font-size="11" text-anchor="start" font-weight="bold" font-style="normal" fill="#111" style="stroke:#111;stroke-width:0.45px">C</text>
<rect x="314.80" y="60.44" width="7.00" height="65.86" fill="#989898"/>
<rect x="325.30" y="110.08" width="7.00" height="16.22" fill="#989898"/>
<rect x="343.20" y="98.19" width="7.00" height="28.11" fill="#f0a2bf"/>
<rect x="353.90" y="104.67" width="7.00" height="21.63" fill="#f0a2bf"/>
<rect x="371.10" y="68.79" width="7.00" height="57.51" fill="#a5c4c3"/>
<rect x="381.90" y="70.27" width="7.00" height="56.03" fill="#a5c4c3"/>
<circle cx="318.20" cy="48.10" r="1.35" fill="#1a1a1a"/>
<circle cx="318.20" cy="55.60" r="1.35" fill="#1a1a1a"/>
<circle cx="318.20" cy="60.30" r="1.35" fill="#1a1a1a"/>
<circle cx="318.20" cy="66.00" r="1.35" fill="#1a1a1a"/>
<circle cx="318.20" cy="81.30" r="1.35" fill="#1a1a1a"/>
<circle cx="326.60" cy="110.50" r="1.30" fill="none" stroke="#1a1a1a" stroke-width="0.85"/>
<circle cx="328.80" cy="109.80" r="1.30" fill="none" stroke="#1a1a1a" stroke-width="0.85"/>
<circle cx="331.00" cy="110.30" r="1.30" fill="none" stroke="#1a1a1a" stroke-width="0.85"/>
<circle cx="328.20" cy="111.20" r="1.30" fill="none" stroke="#1a1a1a" stroke-width="0.85"/>
<circle cx="346.70" cy="86.90" r="1.35" fill="#d81b60"/>
<circle cx="346.70" cy="94.00" r="1.35" fill="#d81b60"/>
<circle cx="344.50" cy="98.50" r="1.35" fill="#d81b60"/>
<circle cx="348.80" cy="99.60" r="1.35" fill="#d81b60"/>
<circle cx="346.70" cy="104.10" r="1.35" fill="#d81b60"/>
<circle cx="357.50" cy="102.30" r="1.30" fill="none" stroke="#d81b60" stroke-width="0.85"/>
<circle cx="359.70" cy="105.00" r="1.30" fill="none" stroke="#d81b60" stroke-width="0.85"/>
<circle cx="354.80" cy="106.00" r="1.30" fill="none" stroke="#d81b60" stroke-width="0.85"/>
<circle cx="357.00" cy="109.40" r="1.30" fill="none" stroke="#d81b60" stroke-width="0.85"/>
<circle cx="357.00" cy="113.50" r="1.30" fill="none" stroke="#d81b60" stroke-width="0.85"/>
<circle cx="375.00" cy="56.00" r="1.35" fill="#2e6964"/>
<circle cx="372.20" cy="64.80" r="1.35" fill="#2e6964"/>
<circle cx="377.20" cy="66.30" r="1.35" fill="#2e6964"/>
<circle cx="374.90" cy="71.90" r="1.35" fill="#2e6964"/>
<circle cx="377.10" cy="77.70" r="1.35" fill="#2e6964"/>
<circle cx="372.40" cy="79.80" r="1.35" fill="#2e6964"/>
<circle cx="385.50" cy="62.00" r="1.30" fill="none" stroke="#2e6964" stroke-width="0.85"/>
<circle cx="383.50" cy="71.50" r="1.30" fill="none" stroke="#2e6964" stroke-width="0.85"/>
<circle cx="386.00" cy="72.20" r="1.30" fill="none" stroke="#2e6964" stroke-width="0.85"/>
<circle cx="388.00" cy="73.50" r="1.30" fill="none" stroke="#2e6964" stroke-width="0.85"/>
<circle cx="385.20" cy="83.10" r="1.30" fill="none" stroke="#2e6964" stroke-width="0.85"/>
<line x1="310.80" y1="25.80" x2="310.80" y2="126.80" stroke="#2a2a2a" stroke-width="1"/>
<line x1="308.10" y1="126.30" x2="310.80" y2="126.30" stroke="#2a2a2a" stroke-width="0.85"/>
<text x="305.05" y="128.5" font-size="6.4" text-anchor="end" font-weight="normal" font-style="normal" fill="#333">0</text>
<line x1="308.10" y1="106.64" x2="310.80" y2="106.64" stroke="#2a2a2a" stroke-width="0.85"/>
<text x="305.05" y="108.84" font-size="6.4" text-anchor="end" font-weight="normal" font-style="normal" fill="#333">20</text>
<line x1="308.10" y1="86.98" x2="310.80" y2="86.98" stroke="#2a2a2a" stroke-width="0.85"/>
<text x="305.05" y="89.18" font-size="6.4" text-anchor="end" font-weight="normal" font-style="normal" fill="#333">40</text>
<line x1="308.10" y1="67.32" x2="310.80" y2="67.32" stroke="#2a2a2a" stroke-width="0.85"/>
<text x="305.05" y="69.52" font-size="6.4" text-anchor="end" font-weight="normal" font-style="normal" fill="#333">60</text>
<line x1="308.10" y1="47.66" x2="310.80" y2="47.66" stroke="#2a2a2a" stroke-width="0.85"/>
<text x="305.05" y="49.86" font-size="6.4" text-anchor="end" font-weight="normal" font-style="normal" fill="#333">80</text>
<line x1="308.10" y1="28.00" x2="310.80" y2="28.00" stroke="#2a2a2a" stroke-width="0.85"/>
<text x="305.05" y="30.2" font-size="6.4" text-anchor="end" font-weight="normal" font-style="normal" fill="#333">100</text>
<line x1="310.30" y1="126.60" x2="393.00" y2="126.60" stroke="#2a2a2a" stroke-width="1.1"/>
<polyline points="316.5,40.0 316.5,37.8 330.4,37.8 330.4,40.0" fill="none" stroke="#2a2a2a" stroke-width="0.8"/>
<text x="323.45" y="37.6" font-size="6" text-anchor="middle" font-weight="normal" font-style="normal" fill="#333">*</text>
<polyline points="345,77.0 345,74.8 359,74.8 359,77.0" fill="none" stroke="#2a2a2a" stroke-width="0.8"/>
<text x="352.0" y="74.6" font-size="6" text-anchor="middle" font-weight="normal" font-style="normal" fill="#333">*</text>
<text x="291.40" y="74.60" font-size="7.6" text-anchor="middle" fill="#333" transform="rotate(-90 291.40 74.60)" textLength="65.2" lengthAdjust="spacingAndGlyphs" style="stroke-width:0.36px">Peak height (nM thrombin)</text>
<text x="309.30" y="137.70" font-size="6.6" font-style="italic" text-anchor="end" fill="#333">F11</text>
<text x="317.0" y="137.7" font-size="6.5" text-anchor="middle" font-weight="normal" font-style="italic" fill="#333">+/+</text>
<line x1="318.30" y1="126.60" x2="318.30" y2="129.60" stroke="#2a2a2a" stroke-width="0.8"/>
<text x="329.3" y="137.7" font-size="6.5" text-anchor="middle" font-weight="normal" font-style="italic" fill="#333">−/−</text>
<line x1="328.80" y1="126.60" x2="328.80" y2="129.60" stroke="#2a2a2a" stroke-width="0.8"/>
<text x="345.4" y="137.7" font-size="6.5" text-anchor="middle" font-weight="normal" font-style="italic" fill="#333">+/+</text>
<line x1="346.70" y1="126.60" x2="346.70" y2="129.60" stroke="#2a2a2a" stroke-width="0.8"/>
<text x="357.9" y="137.7" font-size="6.5" text-anchor="middle" font-weight="normal" font-style="italic" fill="#333">−/−</text>
<line x1="357.40" y1="126.60" x2="357.40" y2="129.60" stroke="#2a2a2a" stroke-width="0.8"/>
<text x="373.3" y="137.7" font-size="6.5" text-anchor="middle" font-weight="normal" font-style="italic" fill="#333">+/+</text>
<line x1="374.60" y1="126.60" x2="374.60" y2="129.60" stroke="#2a2a2a" stroke-width="0.8"/>
<text x="385.9" y="137.7" font-size="6.5" text-anchor="middle" font-weight="normal" font-style="italic" fill="#333">−/−</text>
<line x1="385.40" y1="126.60" x2="385.40" y2="129.60" stroke="#2a2a2a" stroke-width="0.8"/>
<line x1="316.20" y1="142.10" x2="330.70" y2="142.10" stroke="#2a2a2a" stroke-width="0.95"/>
<text x="316.0" y="150.90" font-size="6.2" fill="#333" textLength="15.0" lengthAdjust="spacingAndGlyphs">Silica</text>
<line x1="342.40" y1="142.10" x2="361.40" y2="142.10" stroke="#2a2a2a" stroke-width="0.95"/>
<text x="336.9" y="150.90" font-size="6.2" fill="#333" textLength="30.0" lengthAdjust="spacingAndGlyphs">0.05pM TF</text>
<line x1="370.30" y1="142.10" x2="389.40" y2="142.10" stroke="#2a2a2a" stroke-width="0.95"/>
<text x="369.8" y="150.90" font-size="6.2" fill="#333" textLength="25.8" lengthAdjust="spacingAndGlyphs">0.5pM TF</text>
<text x="403.6" y="10.2" font-size="11" text-anchor="start" font-weight="bold" font-style="normal" fill="#111" style="stroke:#111;stroke-width:0.45px">D</text>
<rect x="437.40" y="59.25" width="7.00" height="67.05" fill="#989898"/>
<rect x="448.00" y="104.75" width="7.00" height="21.55" fill="#989898"/>
<rect x="465.90" y="79.60" width="7.00" height="46.70" fill="#f0a2bf"/>
<rect x="476.30" y="104.20" width="7.00" height="22.10" fill="#f0a2bf"/>
<rect x="493.80" y="62.17" width="7.00" height="64.13" fill="#a5c4c3"/>
<rect x="504.50" y="71.80" width="7.00" height="54.50" fill="#a5c4c3"/>
<circle cx="440.90" cy="47.70" r="1.35" fill="#1a1a1a"/>
<circle cx="440.90" cy="49.90" r="1.35" fill="#1a1a1a"/>
<circle cx="440.90" cy="59.30" r="1.35" fill="#1a1a1a"/>
<circle cx="440.90" cy="71.10" r="1.35" fill="#1a1a1a"/>
<circle cx="440.90" cy="80.00" r="1.35" fill="#1a1a1a"/>
<circle cx="451.40" cy="100.00" r="1.30" fill="none" stroke="#1a1a1a" stroke-width="0.85"/>
<circle cx="449.30" cy="105.30" r="1.30" fill="none" stroke="#1a1a1a" stroke-width="0.85"/>
<circle cx="453.60" cy="105.30" r="1.30" fill="none" stroke="#1a1a1a" stroke-width="0.85"/>
<circle cx="451.40" cy="104.00" r="1.30" fill="none" stroke="#1a1a1a" stroke-width="0.85"/>
<circle cx="469.20" cy="62.90" r="1.35" fill="#d81b60"/>
<circle cx="469.20" cy="71.90" r="1.35" fill="#d81b60"/>
<circle cx="469.20" cy="80.30" r="1.35" fill="#d81b60"/>
<circle cx="469.20" cy="82.80" r="1.35" fill="#d81b60"/>
<circle cx="469.20" cy="95.30" r="1.35" fill="#d81b60"/>
<circle cx="479.70" cy="89.70" r="1.30" fill="none" stroke="#d81b60" stroke-width="0.85"/>
<circle cx="479.70" cy="94.80" r="1.30" fill="none" stroke="#d81b60" stroke-width="0.85"/>
<circle cx="477.50" cy="100.00" r="1.30" fill="none" stroke="#d81b60" stroke-width="0.85"/>
<circle cx="482.20" cy="101.30" r="1.30" fill="none" stroke="#d81b60" stroke-width="0.85"/>
<circle cx="479.70" cy="105.60" r="1.30" fill="none" stroke="#d81b60" stroke-width="0.85"/>
<circle cx="497.20" cy="54.30" r="1.35" fill="#2e6964"/>
<circle cx="494.70" cy="58.50" r="1.35" fill="#2e6964"/>
<circle cx="499.80" cy="58.50" r="1.35" fill="#2e6964"/>
<circle cx="494.70" cy="62.80" r="1.35" fill="#2e6964"/>
<circle cx="499.80" cy="62.80" r="1.35" fill="#2e6964"/>
<circle cx="497.20" cy="69.20" r="1.35" fill="#2e6964"/>
<circle cx="507.90" cy="58.50" r="1.30" fill="none" stroke="#2e6964" stroke-width="0.85"/>
<circle cx="507.90" cy="62.20" r="1.30" fill="none" stroke="#2e6964" stroke-width="0.85"/>
<circle cx="505.40" cy="72.50" r="1.30" fill="none" stroke="#2e6964" stroke-width="0.85"/>
<circle cx="509.70" cy="71.60" r="1.30" fill="none" stroke="#2e6964" stroke-width="0.85"/>
<circle cx="507.90" cy="75.90" r="1.30" fill="none" stroke="#2e6964" stroke-width="0.85"/>
<circle cx="506.00" cy="73.40" r="1.30" fill="none" stroke="#2e6964" stroke-width="0.85"/>
<circle cx="510.30" cy="73.40" r="1.30" fill="none" stroke="#2e6964" stroke-width="0.85"/>
<line x1="433.80" y1="25.80" x2="433.80" y2="126.80" stroke="#2a2a2a" stroke-width="1"/>
<line x1="431.10" y1="126.00" x2="433.80" y2="126.00" stroke="#2a2a2a" stroke-width="0.85"/>
<text x="428.05" y="128.2" font-size="6.4" text-anchor="end" font-weight="normal" font-style="normal" fill="#333">0</text>
<line x1="431.10" y1="109.78" x2="433.80" y2="109.78" stroke="#2a2a2a" stroke-width="0.85"/>
<text x="428.05" y="111.98" font-size="6.4" text-anchor="end" font-weight="normal" font-style="normal" fill="#333">200</text>
<line x1="431.10" y1="93.56" x2="433.80" y2="93.56" stroke="#2a2a2a" stroke-width="0.85"/>
<text x="428.05" y="95.76" font-size="6.4" text-anchor="end" font-weight="normal" font-style="normal" fill="#333">400</text>
<line x1="431.10" y1="77.34" x2="433.80" y2="77.34" stroke="#2a2a2a" stroke-width="0.85"/>
<text x="428.05" y="79.54" font-size="6.4" text-anchor="end" font-weight="normal" font-style="normal" fill="#333">600</text>
<line x1="431.10" y1="61.12" x2="433.80" y2="61.12" stroke="#2a2a2a" stroke-width="0.85"/>
<text x="428.05" y="63.32" font-size="6.4" text-anchor="end" font-weight="normal" font-style="normal" fill="#333">800</text>
<line x1="431.10" y1="44.90" x2="433.80" y2="44.90" stroke="#2a2a2a" stroke-width="0.85"/>
<text x="428.05" y="47.1" font-size="6.4" text-anchor="end" font-weight="normal" font-style="normal" fill="#333">1000</text>
<line x1="431.10" y1="28.68" x2="433.80" y2="28.68" stroke="#2a2a2a" stroke-width="0.85"/>
<text x="428.05" y="30.88" font-size="6.4" text-anchor="end" font-weight="normal" font-style="normal" fill="#333">1200</text>
<line x1="433.30" y1="126.60" x2="515.50" y2="126.60" stroke="#2a2a2a" stroke-width="1.1"/>
<polyline points="440.3,38.2 440.3,36.0 453.5,36.0 453.5,38.2" fill="none" stroke="#2a2a2a" stroke-width="0.8"/>
<text x="446.9" y="35.8" font-size="6" text-anchor="middle" font-weight="normal" font-style="normal" fill="#333">*</text>
<polyline points="468.5,53.7 468.5,51.5 482.5,51.5 482.5,53.7" fill="none" stroke="#2a2a2a" stroke-width="0.8"/>
<text x="475.5" y="51.3" font-size="6" text-anchor="middle" font-weight="normal" font-style="normal" fill="#333">*</text>
<text x="408.90" y="71.50" font-size="7.6" text-anchor="middle" fill="#333" transform="rotate(-90 408.90 71.50)" textLength="47.3" lengthAdjust="spacingAndGlyphs" style="stroke-width:0.36px">ETP (nM* minute)</text>
<text x="431.70" y="137.70" font-size="6.6" font-style="italic" text-anchor="end" fill="#333">F11</text>
<text x="439.6" y="137.7" font-size="6.5" text-anchor="middle" font-weight="normal" font-style="italic" fill="#333">+/+</text>
<line x1="440.90" y1="126.60" x2="440.90" y2="129.60" stroke="#2a2a2a" stroke-width="0.8"/>
<text x="452.0" y="137.7" font-size="6.5" text-anchor="middle" font-weight="normal" font-style="italic" fill="#333">−/−</text>
<line x1="451.50" y1="126.60" x2="451.50" y2="129.60" stroke="#2a2a2a" stroke-width="0.8"/>
<text x="468.1" y="137.7" font-size="6.5" text-anchor="middle" font-weight="normal" font-style="italic" fill="#333">+/+</text>
<line x1="469.40" y1="126.60" x2="469.40" y2="129.60" stroke="#2a2a2a" stroke-width="0.8"/>
<text x="480.3" y="137.7" font-size="6.5" text-anchor="middle" font-weight="normal" font-style="italic" fill="#333">−/−</text>
<line x1="479.80" y1="126.60" x2="479.80" y2="129.60" stroke="#2a2a2a" stroke-width="0.8"/>
<text x="496.0" y="137.7" font-size="6.5" text-anchor="middle" font-weight="normal" font-style="italic" fill="#333">+/+</text>
<line x1="497.30" y1="126.60" x2="497.30" y2="129.60" stroke="#2a2a2a" stroke-width="0.8"/>
<text x="508.5" y="137.7" font-size="6.5" text-anchor="middle" font-weight="normal" font-style="italic" fill="#333">−/−</text>
<line x1="508.00" y1="126.60" x2="508.00" y2="129.60" stroke="#2a2a2a" stroke-width="0.8"/>
<line x1="438.80" y1="142.10" x2="453.40" y2="142.10" stroke="#2a2a2a" stroke-width="0.95"/>
<text x="439.1" y="150.90" font-size="6.2" fill="#333" textLength="14.6" lengthAdjust="spacingAndGlyphs">Silica</text>
<line x1="465.10" y1="142.10" x2="483.80" y2="142.10" stroke="#2a2a2a" stroke-width="0.95"/>
<text x="459.4" y="150.90" font-size="6.2" fill="#333" textLength="30.2" lengthAdjust="spacingAndGlyphs">0.05pM TF</text>
<line x1="493.00" y1="142.10" x2="512.00" y2="142.10" stroke="#2a2a2a" stroke-width="0.95"/>
<text x="492.2" y="150.90" font-size="6.2" fill="#333" textLength="25.8" lengthAdjust="spacingAndGlyphs">0.5pM TF</text>
<text x="2.3" y="177.6" font-size="11" text-anchor="start" font-weight="bold" font-style="normal" fill="#111" style="stroke:#111;stroke-width:0.45px">E</text>
<text x="46.3" y="188.20" font-size="8.6" font-style="normal" fill="#333" textLength="31.8" lengthAdjust="spacingAndGlyphs" style="stroke-width:0.25px">PPP-TG:</text>
<text x="80.6" y="188.20" font-size="8.6" font-style="italic" fill="#333" textLength="14.6" lengthAdjust="spacingAndGlyphs" style="stroke-width:0.25px">F11</text>
<text x="95.7" y="185.00" font-size="6.0" font-style="normal" fill="#333" textLength="10.3" lengthAdjust="spacingAndGlyphs" style="stroke-width:0.25px">+/+</text>
<text x="108.0" y="188.20" font-size="8.6" font-style="normal" fill="#333" textLength="7.9" lengthAdjust="spacingAndGlyphs" style="stroke-width:0.25px">vs</text>
<text x="118.3" y="188.20" font-size="8.6" font-style="italic" fill="#333" textLength="14.8" lengthAdjust="spacingAndGlyphs" style="stroke-width:0.25px">F11</text>
<text x="131.9" y="185.00" font-size="6.0" font-style="normal" fill="#333" textLength="11.0" lengthAdjust="spacingAndGlyphs" style="stroke-width:0.25px">−/−</text>
<line x1="28.50" y1="192.30" x2="28.50" y2="294.10" stroke="#2a2a2a" stroke-width="1"/>
<line x1="28.00" y1="293.60" x2="162.70" y2="293.60" stroke="#2a2a2a" stroke-width="1"/>
<line x1="26.20" y1="293.60" x2="28.50" y2="293.60" stroke="#2a2a2a" stroke-width="0.8"/>
<text x="22.8" y="295.8" font-size="6.4" text-anchor="end" font-weight="normal" font-style="normal" fill="#333">0</text>
<line x1="26.20" y1="277.20" x2="28.50" y2="277.20" stroke="#2a2a2a" stroke-width="0.8"/>
<text x="22.8" y="279.4" font-size="6.4" text-anchor="end" font-weight="normal" font-style="normal" fill="#333">20</text>
<line x1="26.20" y1="260.80" x2="28.50" y2="260.80" stroke="#2a2a2a" stroke-width="0.8"/>
<text x="22.8" y="263.0" font-size="6.4" text-anchor="end" font-weight="normal" font-style="normal" fill="#333">40</text>
<line x1="26.20" y1="244.40" x2="28.50" y2="244.40" stroke="#2a2a2a" stroke-width="0.8"/>
<text x="22.8" y="246.6" font-size="6.4" text-anchor="end" font-weight="normal" font-style="normal" fill="#333">60</text>
<line x1="26.20" y1="228.00" x2="28.50" y2="228.00" stroke="#2a2a2a" stroke-width="0.8"/>
<text x="22.8" y="230.2" font-size="6.4" text-anchor="end" font-weight="normal" font-style="normal" fill="#333">80</text>
<line x1="26.20" y1="211.60" x2="28.50" y2="211.60" stroke="#2a2a2a" stroke-width="0.8"/>
<text x="22.8" y="213.8" font-size="6.4" text-anchor="end" font-weight="normal" font-style="normal" fill="#333">100</text>
<line x1="26.20" y1="195.20" x2="28.50" y2="195.20" stroke="#2a2a2a" stroke-width="0.8"/>
<text x="22.8" y="197.4" font-size="6.4" text-anchor="end" font-weight="normal" font-style="normal" fill="#333">120</text>
<line x1="28.80" y1="293.60" x2="28.80" y2="296.10" stroke="#2a2a2a" stroke-width="0.8"/>
<text x="28.8" y="305.3" font-size="6.2" text-anchor="middle" font-weight="normal" font-style="normal" fill="#333">0</text>
<line x1="72.10" y1="293.60" x2="72.10" y2="296.10" stroke="#2a2a2a" stroke-width="0.8"/>
<text x="72.1" y="305.3" font-size="6.2" text-anchor="middle" font-weight="normal" font-style="normal" fill="#333">5</text>
<line x1="115.40" y1="293.60" x2="115.40" y2="296.10" stroke="#2a2a2a" stroke-width="0.8"/>
<text x="115.39999999999999" y="305.3" font-size="6.2" text-anchor="middle" font-weight="normal" font-style="normal" fill="#333">10</text>
<line x1="158.70" y1="293.60" x2="158.70" y2="296.10" stroke="#2a2a2a" stroke-width="0.8"/>
<text x="158.70000000000002" y="305.3" font-size="6.2" text-anchor="middle" font-weight="normal" font-style="normal" fill="#333">15</text>
<text x="75.7" y="315.2" font-size="8.2" fill="#333" textLength="36.2" lengthAdjust="spacingAndGlyphs" style="stroke-width:0.3px">Time (minute)</text>
<text x="6.90" y="245.00" font-size="7.6" text-anchor="middle" fill="#333" transform="rotate(-90 6.90 245.00)" textLength="39.6" lengthAdjust="spacingAndGlyphs" style="stroke-width:0.36px">Thrombin (nM)</text>
<line x1="96.0" y1="203.60" x2="106.9" y2="203.60" stroke="#1a1a1a" stroke-width="1.2"/>
<text x="109.70" y="205.60" font-size="5.9" font-style="italic" fill="#333">F11</text>
<text x="120.00" y="203.10" font-size="4.0" fill="#333" style="stroke-width:0.1px">+/+</text>
<text x="127.40" y="205.55" font-size="5.6" fill="#333">silica</text>
<line x1="96.0" y1="214.25" x2="106.9" y2="214.25" stroke="#1a1a1a" stroke-width="1.2" stroke-dasharray="2.1,1.7,3.4,1.5,2.4,9"/>
<text x="109.70" y="216.25" font-size="5.9" font-style="italic" fill="#333">F11</text>
<text x="120.00" y="213.75" font-size="4.0" fill="#333" style="stroke-width:0.1px">−/−</text>
<text x="127.40" y="216.20" font-size="5.6" fill="#333">silica</text>
<line x1="96.0" y1="224.90" x2="106.9" y2="224.90" stroke="#d42a6c" stroke-width="1.2"/>
<text x="109.70" y="226.90" font-size="5.9" font-style="italic" fill="#333">F11</text>
<text x="120.00" y="224.40" font-size="4.0" fill="#333" style="stroke-width:0.1px">+/+</text>
<text x="127.40" y="226.85" font-size="5.6" fill="#333">0.05pM TF</text>
<line x1="96.0" y1="235.55" x2="106.9" y2="235.55" stroke="#d42a6c" stroke-width="1.2" stroke-dasharray="2.1,1.7,3.4,1.5,2.4,9"/>
<text x="109.70" y="237.55" font-size="5.9" font-style="italic" fill="#333">F11</text>
<text x="120.00" y="235.05" font-size="4.0" fill="#333" style="stroke-width:0.1px">−/−</text>
<text x="127.40" y="237.50" font-size="5.6" fill="#333">0.05pM TF</text>
<line x1="96.0" y1="246.20" x2="106.9" y2="246.20" stroke="#478a83" stroke-width="1.2"/>
<text x="109.70" y="248.20" font-size="5.9" font-style="italic" fill="#333">F11</text>
<text x="120.00" y="245.70" font-size="4.0" fill="#333" style="stroke-width:0.1px">+/+</text>
<text x="127.40" y="248.15" font-size="5.6" fill="#333">0.5pM TF</text>
<line x1="96.0" y1="256.85" x2="106.9" y2="256.85" stroke="#478a83" stroke-width="1.2" stroke-dasharray="2.1,1.7,3.4,1.5,2.4,9"/>
<text x="109.70" y="258.85" font-size="5.9" font-style="italic" fill="#333">F11</text>
<text x="120.00" y="256.35" font-size="4.0" fill="#333" style="stroke-width:0.1px">−/−</text>
<text x="127.40" y="258.80" font-size="5.6" fill="#333">0.5pM TF</text>
<polyline points="28.80,293.60 29.32,293.35 29.84,291.06 30.36,284.66 30.88,278.27 31.40,271.05 31.92,263.67 32.44,256.29 32.96,251.43 33.48,249.08 34.00,246.73 34.52,244.38 35.04,245.70 35.55,247.75 36.07,249.80 36.59,251.58 37.11,253.30 37.63,255.02 38.15,256.74 38.67,258.64 39.19,260.57 39.71,262.50 40.23,264.43 40.75,266.11 41.27,267.29 41.79,268.46 42.31,269.64 42.83,270.81 43.35,271.99 43.87,273.02 44.39,273.75 44.91,274.48 45.43,275.21 45.95,275.95 46.47,276.68 46.99,277.41 47.51,278.14 48.03,278.48 48.54,278.73 49.06,278.99 49.58,278.90 50.10,279.95 50.62,279.55 51.14,280.42 51.66,280.94 52.18,280.76 52.70,280.92 53.22,280.96 53.74,280.73 54.26,280.58 54.78,280.54 55.30,280.65 55.82,280.76 56.34,281.19 56.86,282.04 57.38,282.37 57.90,281.85 58.42,282.10 58.94,282.04 59.46,283.04 59.98,283.02 60.50,282.08 61.02,282.69 61.53,282.69 62.05,283.71 62.57,283.40 63.09,282.78 63.61,283.30 64.13,282.93 64.65,284.24 65.17,284.00 65.69,283.62 66.21,284.28 66.73,283.91 67.25,284.38 67.77,285.17 68.29,285.34 68.81,284.17 69.33,285.58 69.85,285.60 70.37,285.53 70.89,285.11 71.41,285.04 71.93,285.73 72.45,285.83 72.97,285.47 73.49,286.30 74.01,286.24 74.52,285.96 75.04,286.01 75.56,286.96 76.08,286.93 76.60,286.97 77.12,286.18 77.64,286.31 78.16,285.97 78.68,286.35 79.20,287.18 79.72,286.51 80.24,286.26 80.76,287.27 81.28,287.85 81.80,287.39 82.32,287.58 82.84,287.78 83.36,288.03 83.88,287.96 84.40,286.92 84.92,288.18 85.44,287.39 85.96,288.05 86.48,288.12 87.00,287.24 87.51,288.06 88.03,288.28 88.55,287.94 89.07,287.63 89.59,287.94 90.11,287.49 90.63,288.22 91.15,288.09 91.67,287.86 92.19,288.28 92.71,287.96 93.23,288.39 93.75,288.94 94.27,289.02 94.79,288.10 95.31,288.22 95.83,287.99 96.35,288.42 96.87,288.65 97.39,289.32 97.91,288.36 98.43,289.51 98.95,289.12 99.47,289.60 99.99,289.30 100.50,289.47 101.02,289.36 101.54,288.99 102.06,289.31 102.58,289.81 103.10,289.08 103.62,289.20 104.14,289.13 104.66,290.36 105.18,289.56 105.70,289.21 106.22,290.21 106.74,290.35 107.26,289.48 107.78,290.18 108.30,290.17 108.82,289.59 109.34,290.27 109.86,290.58 110.38,290.59 110.90,290.43 111.42,289.95 111.94,290.47 112.46,289.92 112.98,290.99 113.49,290.76 114.01,290.24 114.53,290.49 115.05,290.50 115.57,289.89 116.09,290.90 116.61,291.08 117.13,291.34 117.65,290.71 118.17,291.02 118.69,290.80 119.21,291.53 119.73,291.57 120.25,291.05 120.77,290.53 121.29,291.24 121.81,290.37 122.33,290.90 122.85,291.20 123.37,290.68 123.89,291.52 124.41,291.00 124.93,290.66 125.45,291.13 125.97,291.47 126.48,291.82 127.00,291.14 127.52,291.72 128.04,291.47 128.56,291.24 129.08,290.67 129.60,291.08 130.12,291.33 130.64,290.84 131.16,291.67 131.68,291.58 132.20,291.17 132.72,291.37 133.24,291.88 133.76,291.62 134.28,291.03 134.80,291.90 135.32,291.24 135.84,292.23 136.36,290.91 136.88,291.32 137.40,291.87 137.92,290.92 138.44,291.21 138.96,292.32 139.47,292.06 139.99,291.72 140.51,290.99 141.03,292.27 141.55,292.43 142.07,292.06 142.59,292.47 143.11,291.95 143.63,291.78 144.15,291.94 144.67,292.40 145.19,292.59 145.71,291.46 146.23,292.02 146.75,291.98 147.27,292.00 147.79,291.71 148.31,291.41 148.83,291.54 149.35,291.70 149.87,292.29 150.39,292.56 150.91,292.70 151.43,291.58 151.95,292.78 152.46,292.05 152.98,291.56 153.50,292.45 154.02,292.37 154.54,292.34 155.06,291.58 155.58,291.99 156.10,291.78 156.62,292.98 157.14,291.97 157.66,292.41 158.18,292.50 158.70,291.90" fill="none" stroke="#478a83" stroke-width="1.1" stroke-linejoin="round"/>
<polyline points="28.80,293.60 29.32,293.35 29.84,291.28 30.36,285.54 30.88,279.80 31.40,272.90 31.92,265.76 32.44,258.63 32.96,253.83 33.48,251.37 34.00,248.91 34.52,247.11 35.04,248.58 35.55,250.06 36.07,251.53 36.59,253.23 37.11,254.97 37.63,256.72 38.15,258.46 38.67,260.27 39.19,262.09 39.71,263.91 40.23,265.74 40.75,267.34 41.27,268.50 41.79,269.66 42.31,270.82 42.83,271.98 43.35,273.15 43.87,274.15 44.39,274.82 44.91,275.50 45.43,276.18 45.95,276.86 46.47,277.54 46.99,278.21 47.51,278.89 48.03,279.22 48.54,279.47 49.06,279.73 49.58,279.87 50.10,280.59 50.62,280.72 51.14,281.08 51.66,281.13 52.18,280.62 52.70,281.51 53.22,282.11 53.74,281.71 54.26,281.41 54.78,282.03 55.30,281.82 55.82,282.76 56.34,282.93 56.86,282.28 57.38,283.22 57.90,283.03 58.42,283.05 58.94,283.44 59.46,283.78 59.98,283.96 60.50,282.85 61.02,283.33 61.53,283.12 62.05,283.86 62.57,283.38 63.09,283.63 63.61,284.07 64.13,284.32 64.65,284.47 65.17,284.97 65.69,284.90 66.21,284.58 66.73,285.40 67.25,284.67 67.77,285.24 68.29,285.24 68.81,285.09 69.33,285.45 69.85,286.24 70.37,286.22 70.89,286.68 71.41,286.77 71.93,285.68 72.45,286.27 72.97,285.85 73.49,286.17 74.01,286.85 74.52,286.07 75.04,286.20 75.56,286.89 76.08,287.45 76.60,287.21 77.12,287.48 77.64,287.29 78.16,287.74 78.68,286.98 79.20,286.71 79.72,287.79 80.24,287.11 80.76,287.44 81.28,287.65 81.80,287.16 82.32,287.90 82.84,287.37 83.36,288.45 83.88,287.27 84.40,288.35 84.92,288.63 85.44,287.53 85.96,287.78 86.48,287.89 87.00,287.82 87.51,288.38 88.03,288.77 88.55,288.55 89.07,287.76 89.59,287.77 90.11,288.81 90.63,288.57 91.15,288.61 91.67,288.06 92.19,289.29 92.71,288.26 93.23,289.07 93.75,288.75 94.27,289.36 94.79,289.48 95.31,288.49 95.83,289.05 96.35,288.49 96.87,288.69 97.39,288.90 97.91,289.85 98.43,289.24 98.95,288.77 99.47,289.47 99.99,290.10 100.50,290.01 101.02,289.02 101.54,289.09 102.06,290.11 102.58,290.08 103.10,289.62 103.62,289.95 104.14,290.43 104.66,289.44 105.18,289.98 105.70,290.38 106.22,290.89 106.74,290.31 107.26,290.02 107.78,290.81 108.30,290.96 108.82,290.15 109.34,289.93 109.86,290.67 110.38,290.58 110.90,290.40 111.42,290.58 111.94,291.13 112.46,290.97 112.98,291.09 113.49,291.13 114.01,291.31 114.53,290.94 115.05,291.20 115.57,290.41 116.09,291.13 116.61,290.32 117.13,290.55 117.65,291.29 118.17,291.48 118.69,290.96 119.21,291.12 119.73,291.07 120.25,291.65 120.77,291.14 121.29,290.88 121.81,291.32 122.33,291.60 122.85,290.76 123.37,291.61 123.89,290.73 124.41,291.15 124.93,292.07 125.45,291.50 125.97,291.91 126.48,291.09 127.00,291.59 127.52,292.04 128.04,290.92 128.56,291.14 129.08,291.41 129.60,291.48 130.12,292.15 130.64,290.97 131.16,291.88 131.68,291.61 132.20,291.67 132.72,291.71 133.24,292.32 133.76,291.19 134.28,291.73 134.80,291.88 135.32,291.29 135.84,291.30 136.36,291.51 136.88,291.28 137.40,292.03 137.92,292.36 138.44,292.06 138.96,291.75 139.47,291.52 139.99,291.61 140.51,291.76 141.03,291.82 141.55,291.75 142.07,291.88 142.59,292.64 143.11,291.96 143.63,292.33 144.15,292.61 144.67,291.92 145.19,291.64 145.71,292.39 146.23,291.90 146.75,291.97 147.27,291.92 147.79,291.68 148.31,291.93 148.83,292.76 149.35,292.07 149.87,292.44 150.39,292.37 150.91,292.05 151.43,292.72 151.95,292.14 152.46,291.75 152.98,292.90 153.50,291.90 154.02,292.11 154.54,292.52 155.06,292.06 155.58,292.98 156.10,292.89 156.62,291.81 157.14,292.32 157.66,292.94 158.18,293.00 158.70,292.60" fill="none" stroke="#478a83" stroke-width="1.1" stroke-linejoin="round" stroke-dasharray="1.5,1.1"/>
<polyline points="28.80,293.57 29.49,293.52 30.19,293.41 30.88,293.60 31.57,293.45 32.26,293.32 32.96,293.29 33.65,293.60 34.34,293.38 35.04,293.38 35.73,293.42 36.42,293.17 37.11,293.37 37.81,293.39 38.50,293.07 39.19,292.96 39.88,292.86 40.58,292.60 41.27,292.27 41.96,292.30 42.66,291.83 43.35,291.57 44.04,291.53 44.73,291.13 45.43,290.89 46.12,290.88 46.81,290.62 47.51,290.70 48.20,290.54 48.89,290.06 49.58,290.37 50.28,290.38 50.97,290.02 51.66,290.07 52.36,290.35 53.05,290.23 53.74,290.24 54.43,290.20 55.13,290.33 55.82,290.11 56.51,290.25 57.20,290.24 57.90,290.38 58.59,290.45 59.28,290.52 59.98,290.14 60.67,290.24 61.36,290.36 62.05,290.61 62.75,290.63 63.44,290.68 64.13,290.62 64.83,290.78 65.52,290.70 66.21,290.77 66.90,290.81 67.60,290.62 68.29,290.75 68.98,290.77 69.68,290.86 70.37,290.80 71.06,290.70 71.75,290.97 72.45,291.12 73.14,290.94 73.83,291.02 74.52,290.85 75.22,291.21 75.91,290.87 76.60,291.32 77.30,291.09 77.99,291.17 78.68,291.26 79.37,291.01 80.07,291.13 80.76,291.43 81.45,291.29 82.15,291.26 82.84,291.56 83.53,291.56 84.22,291.33 84.92,291.29 85.61,291.44 86.30,291.48 87.00,291.46 87.69,291.60 88.38,291.32 89.07,291.30 89.77,291.55 90.46,291.80 91.15,291.64 91.84,291.46 92.54,291.71 93.23,291.84 93.92,291.83 94.62,291.59 95.31,291.65 96.00,291.84 96.69,291.69 97.39,291.65 98.08,291.57 98.77,291.65 99.47,291.87 100.16,291.70 100.85,291.67 101.54,291.71 102.24,291.79 102.93,291.89 103.62,291.95 104.32,291.80 105.01,291.93 105.70,291.90 106.39,292.17 107.09,292.25 107.78,292.18 108.47,292.05 109.16,292.07 109.86,292.28 110.55,292.30 111.24,291.95 111.94,292.40 112.63,292.00 113.32,292.10 114.01,292.21 114.71,292.02 115.40,292.20 116.09,292.54 116.79,292.10 117.48,292.37 118.17,292.14 118.86,292.20 119.56,292.54 120.25,292.61 120.94,292.63 121.64,292.27 122.33,292.28 123.02,292.57 123.71,292.64 124.41,292.52 125.10,292.32 125.79,292.37 126.48,292.32 127.18,292.28 127.87,292.40 128.56,292.37 129.26,292.79 129.95,292.81 130.64,292.40 131.33,292.53 132.03,292.69 132.72,292.80 133.41,292.70 134.11,292.70 134.80,292.63 135.49,292.66 136.18,292.78 136.88,292.85 137.57,292.79 138.26,292.83 138.96,292.85 139.65,292.70 140.34,292.85 141.03,292.52 141.73,292.65 142.42,292.70 143.11,292.61 143.80,292.82 144.50,292.92 145.19,292.90 145.88,292.78 146.58,292.77 147.27,292.83 147.96,292.81 148.65,292.55 149.35,292.96 150.04,292.75 150.73,292.79 151.43,292.84 152.12,292.63 152.81,292.88 153.50,292.97 154.20,292.92 154.89,292.52 155.58,292.84 156.28,292.95 156.97,292.54 157.66,292.70 158.35,292.55" fill="none" stroke="#d42a6c" stroke-width="1.0" stroke-linejoin="round" stroke-dasharray="1.6,1.1"/>
<polyline points="28.80,293.59 29.49,293.53 30.19,293.38 30.88,293.33 31.57,293.31 32.26,293.54 32.96,293.22 33.65,293.45 34.34,293.49 35.04,293.56 35.73,293.33 36.42,293.48 37.11,293.40 37.81,292.87 38.50,292.09 39.19,291.61 39.88,291.57 40.58,291.22 41.27,290.76 41.96,290.25 42.66,289.74 43.35,289.58 44.04,289.33 44.73,289.31 45.43,289.10 46.12,289.09 46.81,288.89 47.51,288.76 48.20,288.42 48.89,288.34 49.58,288.31 50.28,288.36 50.97,288.30 51.66,288.34 52.36,288.02 53.05,288.10 53.74,287.97 54.43,287.90 55.13,288.16 55.82,288.30 56.51,288.29 57.20,288.05 57.90,288.17 58.59,288.43 59.28,288.32 59.98,288.60 60.67,288.41 61.36,288.86 62.05,288.60 62.75,288.55 63.44,288.90 64.13,288.94 64.83,289.17 65.52,289.17 66.21,289.26 66.90,289.29 67.60,289.47 68.29,289.43 68.98,289.58 69.68,289.42 70.37,289.53 71.06,289.67 71.75,289.37 72.45,289.73 73.14,289.67 73.83,289.54 74.52,289.66 75.22,289.61 75.91,289.83 76.60,289.76 77.30,290.20 77.99,289.93 78.68,290.17 79.37,290.23 80.07,290.06 80.76,290.12 81.45,290.37 82.15,290.40 82.84,290.47 83.53,290.18 84.22,290.36 84.92,290.56 85.61,290.46 86.30,290.72 87.00,290.64 87.69,290.56 88.38,290.35 89.07,290.44 89.77,290.62 90.46,290.54 91.15,290.82 91.84,290.63 92.54,290.51 93.23,290.95 93.92,290.60 94.62,290.60 95.31,290.93 96.00,290.74 96.69,290.68 97.39,291.12 98.08,290.99 98.77,290.96 99.47,290.88 100.16,291.17 100.85,290.96 101.54,291.01 102.24,290.96 102.93,291.04 103.62,291.01 104.32,291.16 105.01,291.22 105.70,291.28 106.39,291.34 107.09,291.34 107.78,291.35 108.47,291.42 109.16,291.57 109.86,291.47 110.55,291.23 111.24,291.57 111.94,291.26 112.63,291.36 113.32,291.58 114.01,291.72 114.71,291.42 115.40,291.41 116.09,291.74 116.79,291.58 117.48,291.55 118.17,291.62 118.86,291.88 119.56,291.84 120.25,291.61 120.94,291.67 121.64,291.67 122.33,291.87 123.02,291.59 123.71,291.65 124.41,291.81 125.10,291.64 125.79,291.93 126.48,291.83 127.18,291.85 127.87,291.64 128.56,291.67 129.26,291.97 129.95,291.77 130.64,292.02 131.33,291.75 132.03,291.75 132.72,291.87 133.41,292.20 134.11,292.08 134.80,292.15 135.49,292.00 136.18,292.24 136.88,292.24 137.57,292.23 138.26,291.87 138.96,292.01 139.65,291.89 140.34,291.86 141.03,292.06 141.73,291.93 142.42,292.15 143.11,292.07 143.80,292.30 144.50,292.17 145.19,292.36 145.88,292.19 146.58,291.95 147.27,291.95 147.96,292.08 148.65,292.44 149.35,291.98 150.04,292.22 150.73,292.16 151.43,292.30 152.12,292.13 152.81,292.37 153.50,292.48 154.20,292.32 154.89,292.46 155.58,292.46 156.28,292.48 156.97,292.24 157.66,292.26 158.35,292.50" fill="none" stroke="#d42a6c" stroke-width="1.2" stroke-linejoin="round"/>
<polyline points="28.80,293.03 29.49,292.70 30.19,292.70 30.88,292.51 31.57,293.46 32.26,292.34 32.96,293.00 33.65,292.70 34.34,292.69 35.04,292.40 35.73,293.48 36.42,293.33 37.11,292.75 37.81,292.97 38.50,292.70 39.19,293.33 39.88,292.36 40.58,293.60 41.27,292.74 41.96,293.31 42.66,293.60 43.35,292.82 44.04,293.60 44.73,293.54 45.43,293.40 46.12,293.60 46.81,293.60 47.51,293.60 48.20,292.54 48.89,293.60 49.58,293.60 50.28,293.60 50.97,292.44 51.66,293.03 52.36,292.58 53.05,292.33 53.74,293.12 54.43,293.28 55.13,293.29 55.82,293.49 56.51,292.95 57.20,292.34 57.90,293.10 58.59,292.69 59.28,292.47 59.98,292.57 60.67,292.83 61.36,293.03 62.05,293.60 62.75,293.31 63.44,292.53 64.13,293.20 64.83,292.81 65.52,293.50 66.21,292.97 66.90,293.57 67.60,292.64 68.29,292.59 68.98,293.60 69.68,292.84 70.37,293.60 71.06,292.37 71.75,293.60 72.45,293.60 73.14,292.46 73.83,292.92 74.52,293.60 75.22,293.16 75.91,292.57 76.60,293.60 77.30,292.69 77.99,293.45 78.68,293.20 79.37,293.28 80.07,293.60 80.76,293.29 81.45,293.07 82.15,292.91 82.84,293.04 83.53,293.60 84.22,292.93 84.92,293.45 85.61,292.45 86.30,293.60 87.00,292.65 87.69,293.60 88.38,293.00 89.07,293.35 89.77,293.17 90.46,292.80 91.15,292.62 91.84,293.60 92.54,292.48 93.23,292.86 93.92,293.60 94.62,292.79 95.31,292.60 96.00,293.32 96.69,292.49 97.39,293.60 98.08,293.18 98.77,293.53 99.47,292.58 100.16,293.43 100.85,293.52 101.54,292.29 102.24,293.25 102.93,293.17 103.62,292.78 104.32,293.60 105.01,292.60 105.70,292.80 106.39,293.12 107.09,292.62 107.78,292.49 108.47,293.60 109.16,292.35 109.86,293.07 110.55,292.65 111.24,292.82 111.94,292.35 112.63,292.67 113.32,293.53 114.01,293.60 114.71,293.27 115.40,293.50 116.09,293.55 116.79,293.04 117.48,293.10 118.17,293.28 118.86,292.68 119.56,293.60 120.25,293.20 120.94,293.20 121.64,292.93 122.33,292.50 123.02,292.96 123.71,293.60 124.41,292.95 125.10,293.34 125.79,293.24 126.48,292.99 127.18,293.57 127.87,292.62 128.56,293.32 129.26,293.33 129.95,293.03 130.64,293.60 131.33,293.40 132.03,292.30 132.72,293.60 133.41,293.29 134.11,292.67 134.80,293.15 135.49,292.91 136.18,292.54 136.88,292.55 137.57,293.23 138.26,293.36 138.96,293.60 139.65,292.71 140.34,293.60 141.03,293.16 141.73,293.60 142.42,292.70 143.11,293.18 143.80,293.60 144.50,292.97 145.19,293.60 145.88,293.35 146.58,293.46 147.27,292.68 147.96,292.94 148.65,293.58 149.35,293.38 150.04,293.19 150.73,292.56 151.43,293.36 152.12,292.69 152.81,293.60 153.50,293.60 154.20,292.65 154.89,293.33 155.58,293.60 156.28,293.60 156.97,293.23 157.66,293.60 158.35,293.31" fill="none" stroke="#1a1a1a" stroke-width="0.9" stroke-linejoin="round" stroke-dasharray="1.0,1.3"/>
<polyline points="28.80,293.60 29.49,293.19 30.53,277.20 31.83,240.30 33.48,214.06 35.38,228.00 36.68,239.48 38.24,249.32 39.80,259.98 42.22,266.95 45.25,272.61 49.24,275.97 50.88,276.47 53.03,280.15 55.00,276.96 57.23,280.40 59.23,276.29 61.01,282.99 62.90,276.56 64.55,281.62 66.33,278.91 67.95,281.66 70.13,276.44 72.22,284.72 74.07,279.00 75.76,283.03 77.65,281.33 79.89,285.73 82.22,280.69 84.26,285.90 86.24,282.72 87.86,285.19 89.64,280.41 91.40,285.51 93.71,281.27 94.72,290.68 94.88,289.92 95.74,287.29 96.61,289.84 97.08,290.03 97.56,289.93 98.43,282.61 99.29,289.63 99.77,291.90 100.25,290.38 101.11,283.92 101.98,289.59 102.41,290.63 102.84,289.66 103.71,285.32 104.58,290.95 104.85,291.56 105.72,286.45 106.58,291.02 106.91,291.12 107.78,272.53 108.65,290.78 109.51,291.39 110.38,289.64 111.24,282.04 112.11,289.88 112.24,291.63 112.37,289.83 113.23,285.97 114.10,290.91 115.18,290.69 116.27,290.93 117.13,281.30 118.00,291.14 118.62,291.62 119.49,287.80 120.35,290.35 120.34,289.71 121.20,283.92 122.07,290.67 123.12,291.08 123.98,285.90 124.85,291.62 125.10,289.60 125.97,277.20 126.83,290.01 128.19,290.49 129.05,287.45 129.92,291.37 130.47,290.87 131.33,271.79 132.20,290.90 132.78,291.47 133.64,286.21 134.51,291.95 135.84,290.03 136.70,277.20 137.57,290.59 138.01,290.62 138.88,286.71 139.74,291.44 140.51,290.35 141.38,279.91 142.25,289.98 143.11,291.84 143.98,289.54 144.84,282.61 145.71,291.10 146.14,290.42 146.58,289.75 147.44,279.91 148.31,291.11 149.17,290.35 150.04,290.54 150.91,283.92 151.77,290.19 151.90,291.94 152.03,291.06 152.90,286.63 153.76,290.84 154.54,290.00 155.32,290.82 156.19,275.23 157.05,289.90 157.53,290.05 158.01,289.60 158.87,279.25 159.74,290.58 159.57,291.96" fill="none" stroke="#1a1a1a" stroke-width="1.25" stroke-linejoin="round"/>
<text x="169.8" y="177.6" font-size="11" text-anchor="start" font-weight="bold" font-style="normal" fill="#111" style="stroke:#111;stroke-width:0.45px">F</text>
<rect x="195.75" y="283.04" width="7.00" height="10.46" fill="#989898"/>
<rect x="206.35" y="209.22" width="7.00" height="13.98" fill="#989898"/>
<rect x="206.35" y="229.00" width="7.00" height="64.50" fill="#989898"/>
<rect x="224.20" y="270.60" width="7.00" height="22.90" fill="#f0a2bf"/>
<rect x="234.50" y="270.60" width="7.00" height="22.90" fill="#f0a2bf"/>
<rect x="252.00" y="282.25" width="7.00" height="11.25" fill="#a5c4c3"/>
<rect x="263.00" y="281.00" width="7.00" height="12.50" fill="#a5c4c3"/>
<circle cx="198.20" cy="281.50" r="1.35" fill="#1a1a1a"/>
<circle cx="199.80" cy="281.00" r="1.35" fill="#1a1a1a"/>
<circle cx="201.00" cy="282.30" r="1.35" fill="#1a1a1a"/>
<circle cx="197.60" cy="282.80" r="1.35" fill="#1a1a1a"/>
<circle cx="199.30" cy="283.30" r="1.35" fill="#1a1a1a"/>
<circle cx="207.20" cy="199.40" r="1.30" fill="none" stroke="#1a1a1a" stroke-width="0.85"/>
<circle cx="211.90" cy="199.40" r="1.30" fill="none" stroke="#1a1a1a" stroke-width="0.85"/>
<circle cx="209.70" cy="209.40" r="1.30" fill="none" stroke="#1a1a1a" stroke-width="0.85"/>
<circle cx="209.70" cy="237.90" r="1.30" fill="none" stroke="#1a1a1a" stroke-width="0.85"/>
<circle cx="209.70" cy="282.80" r="1.30" fill="none" stroke="#1a1a1a" stroke-width="0.85"/>
<circle cx="227.10" cy="266.90" r="1.35" fill="#d81b60"/>
<circle cx="225.25" cy="269.00" r="1.35" fill="#d81b60"/>
<circle cx="228.10" cy="271.00" r="1.35" fill="#d81b60"/>
<circle cx="230.00" cy="271.00" r="1.35" fill="#d81b60"/>
<circle cx="227.10" cy="275.60" r="1.35" fill="#d81b60"/>
<circle cx="237.75" cy="267.10" r="1.30" fill="none" stroke="#d81b60" stroke-width="0.85"/>
<circle cx="235.40" cy="271.25" r="1.30" fill="none" stroke="#d81b60" stroke-width="0.85"/>
<circle cx="240.40" cy="271.25" r="1.30" fill="none" stroke="#d81b60" stroke-width="0.85"/>
<circle cx="237.75" cy="277.90" r="1.30" fill="none" stroke="#d81b60" stroke-width="0.85"/>
<circle cx="237.75" cy="281.90" r="1.30" fill="none" stroke="#d81b60" stroke-width="0.85"/>
<circle cx="254.50" cy="280.30" r="1.35" fill="#2e6964"/>
<circle cx="256.50" cy="281.60" r="1.35" fill="#2e6964"/>
<circle cx="253.50" cy="282.30" r="1.35" fill="#2e6964"/>
<circle cx="257.30" cy="282.80" r="1.35" fill="#2e6964"/>
<circle cx="255.30" cy="283.50" r="1.35" fill="#2e6964"/>
<circle cx="264.30" cy="281.00" r="1.30" fill="none" stroke="#2e6964" stroke-width="0.85"/>
<circle cx="267.60" cy="280.50" r="1.30" fill="none" stroke="#2e6964" stroke-width="0.85"/>
<circle cx="266.00" cy="283.00" r="1.30" fill="none" stroke="#2e6964" stroke-width="0.85"/>
<circle cx="264.20" cy="283.60" r="1.30" fill="none" stroke="#2e6964" stroke-width="0.85"/>
<circle cx="268.50" cy="283.30" r="1.30" fill="none" stroke="#2e6964" stroke-width="0.85"/>
<line x1="191.60" y1="193.20" x2="191.60" y2="223.20" stroke="#2a2a2a" stroke-width="1"/>
<line x1="191.60" y1="229.00" x2="191.60" y2="294.00" stroke="#2a2a2a" stroke-width="1"/>
<line x1="189.00" y1="223.20" x2="194.20" y2="223.20" stroke="#2a2a2a" stroke-width="0.9"/>
<line x1="189.00" y1="229.00" x2="194.20" y2="229.00" stroke="#2a2a2a" stroke-width="0.9"/>
<line x1="188.90" y1="219.52" x2="191.60" y2="219.52" stroke="#2a2a2a" stroke-width="0.85"/>
<text x="185.85" y="221.72" font-size="6.4" text-anchor="end" font-weight="normal" font-style="normal" fill="#333">40</text>
<line x1="188.90" y1="211.28" x2="191.60" y2="211.28" stroke="#2a2a2a" stroke-width="0.85"/>
<text x="185.85" y="213.48" font-size="6.4" text-anchor="end" font-weight="normal" font-style="normal" fill="#333">60</text>
<line x1="188.90" y1="203.04" x2="191.60" y2="203.04" stroke="#2a2a2a" stroke-width="0.85"/>
<text x="185.85" y="205.24" font-size="6.4" text-anchor="end" font-weight="normal" font-style="normal" fill="#333">80</text>
<line x1="188.90" y1="194.80" x2="191.60" y2="194.80" stroke="#2a2a2a" stroke-width="0.85"/>
<text x="185.85" y="197.0" font-size="6.4" text-anchor="end" font-weight="normal" font-style="normal" fill="#333">100</text>
<line x1="188.90" y1="293.60" x2="191.60" y2="293.60" stroke="#2a2a2a" stroke-width="0.85"/>
<text x="185.85" y="295.8" font-size="6.4" text-anchor="end" font-weight="normal" font-style="normal" fill="#333">0</text>
<line x1="188.90" y1="280.80" x2="191.60" y2="280.80" stroke="#2a2a2a" stroke-width="0.85"/>
<text x="185.85" y="283.0" font-size="6.4" text-anchor="end" font-weight="normal" font-style="normal" fill="#333">2</text>
<line x1="188.90" y1="268.00" x2="191.60" y2="268.00" stroke="#2a2a2a" stroke-width="0.85"/>
<text x="185.85" y="270.2" font-size="6.4" text-anchor="end" font-weight="normal" font-style="normal" fill="#333">4</text>
<line x1="188.90" y1="255.20" x2="191.60" y2="255.20" stroke="#2a2a2a" stroke-width="0.85"/>
<text x="185.85" y="257.4" font-size="6.4" text-anchor="end" font-weight="normal" font-style="normal" fill="#333">6</text>
<line x1="188.90" y1="242.40" x2="191.60" y2="242.40" stroke="#2a2a2a" stroke-width="0.85"/>
<text x="185.85" y="244.6" font-size="6.4" text-anchor="end" font-weight="normal" font-style="normal" fill="#333">8</text>
<line x1="188.90" y1="229.60" x2="191.60" y2="229.60" stroke="#2a2a2a" stroke-width="0.85"/>
<text x="185.85" y="231.8" font-size="6.4" text-anchor="end" font-weight="normal" font-style="normal" fill="#333">10</text>
<line x1="191.10" y1="293.60" x2="273.50" y2="293.60" stroke="#2a2a2a" stroke-width="1"/>
<text x="174.30" y="245.10" font-size="7.6" text-anchor="middle" fill="#333" transform="rotate(-90 174.30 245.10)" textLength="47" lengthAdjust="spacingAndGlyphs" style="stroke-width:0.36px">Lag time (minute)</text>
<text x="189.20" y="304.90" font-size="6.6" font-style="italic" text-anchor="end" fill="#333">F11</text>
<text x="197.95" y="304.9" font-size="6.5" text-anchor="middle" font-weight="normal" font-style="italic" fill="#333">+/+</text>
<line x1="199.25" y1="293.60" x2="199.25" y2="296.60" stroke="#2a2a2a" stroke-width="0.8"/>
<text x="210.35" y="304.9" font-size="6.5" text-anchor="middle" font-weight="normal" font-style="italic" fill="#333">−/−</text>
<line x1="209.85" y1="293.60" x2="209.85" y2="296.60" stroke="#2a2a2a" stroke-width="0.8"/>
<text x="226.4" y="304.9" font-size="6.5" text-anchor="middle" font-weight="normal" font-style="italic" fill="#333">+/+</text>
<line x1="227.70" y1="293.60" x2="227.70" y2="296.60" stroke="#2a2a2a" stroke-width="0.8"/>
<text x="238.5" y="304.9" font-size="6.5" text-anchor="middle" font-weight="normal" font-style="italic" fill="#333">−/−</text>
<line x1="238.00" y1="293.60" x2="238.00" y2="296.60" stroke="#2a2a2a" stroke-width="0.8"/>
<text x="254.2" y="304.9" font-size="6.5" text-anchor="middle" font-weight="normal" font-style="italic" fill="#333">+/+</text>
<line x1="255.50" y1="293.60" x2="255.50" y2="296.60" stroke="#2a2a2a" stroke-width="0.8"/>
<text x="267.0" y="304.9" font-size="6.5" text-anchor="middle" font-weight="normal" font-style="italic" fill="#333">−/−</text>
<line x1="266.50" y1="293.60" x2="266.50" y2="296.60" stroke="#2a2a2a" stroke-width="0.8"/>
<line x1="197.15" y1="309.30" x2="211.75" y2="309.30" stroke="#2a2a2a" stroke-width="0.95"/>
<text x="197.5" y="318.10" font-size="6.2" fill="#333" textLength="14.6" lengthAdjust="spacingAndGlyphs">Silica</text>
<line x1="223.40" y1="309.30" x2="242.00" y2="309.30" stroke="#2a2a2a" stroke-width="0.95"/>
<text x="218.0" y="318.10" font-size="6.2" fill="#333" textLength="30.2" lengthAdjust="spacingAndGlyphs">0.05pM TF</text>
<line x1="251.20" y1="309.30" x2="270.50" y2="309.30" stroke="#2a2a2a" stroke-width="0.95"/>
<text x="252.4" y="318.10" font-size="6.2" fill="#333" textLength="25.6" lengthAdjust="spacingAndGlyphs">0.5pM TF</text>
<text x="284.8" y="178.5" font-size="11" text-anchor="start" font-weight="bold" font-style="normal" fill="#111" style="stroke:#111;stroke-width:0.45px">G</text>
<rect x="314.80" y="208.76" width="7.00" height="42.24" fill="#989898"/>
<rect x="314.80" y="257.25" width="7.00" height="36.35" fill="#989898"/>
<rect x="325.35" y="289.40" width="7.00" height="4.20" fill="#989898"/>
<rect x="342.85" y="284.60" width="7.00" height="9.00" fill="#f0a2bf"/>
<rect x="353.60" y="281.00" width="7.00" height="12.60" fill="#f0a2bf"/>
<rect x="371.00" y="231.47" width="7.00" height="19.53" fill="#a5c4c3"/>
<rect x="371.00" y="257.25" width="7.00" height="36.35" fill="#a5c4c3"/>
<rect x="381.85" y="231.19" width="7.00" height="19.81" fill="#a5c4c3"/>
<rect x="381.85" y="257.25" width="7.00" height="36.35" fill="#a5c4c3"/>
<circle cx="318.10" cy="201.25" r="1.35" fill="#1a1a1a"/>
<circle cx="316.00" cy="209.40" r="1.35" fill="#1a1a1a"/>
<circle cx="317.50" cy="207.75" r="1.35" fill="#1a1a1a"/>
<circle cx="319.00" cy="208.10" r="1.35" fill="#1a1a1a"/>
<circle cx="320.60" cy="208.40" r="1.35" fill="#1a1a1a"/>
<circle cx="326.60" cy="284.90" r="1.30" fill="none" stroke="#1a1a1a" stroke-width="0.85"/>
<circle cx="330.80" cy="286.20" r="1.30" fill="none" stroke="#1a1a1a" stroke-width="0.85"/>
<circle cx="329.00" cy="289.10" r="1.30" fill="none" stroke="#1a1a1a" stroke-width="0.85"/>
<circle cx="326.60" cy="292.30" r="1.30" fill="none" stroke="#1a1a1a" stroke-width="0.85"/>
<circle cx="331.00" cy="292.30" r="1.30" fill="none" stroke="#1a1a1a" stroke-width="0.85"/>
<circle cx="344.10" cy="279.10" r="1.35" fill="#d81b60"/>
<circle cx="348.60" cy="280.60" r="1.35" fill="#d81b60"/>
<circle cx="346.10" cy="283.80" r="1.35" fill="#d81b60"/>
<circle cx="344.10" cy="287.50" r="1.35" fill="#d81b60"/>
<circle cx="348.60" cy="287.10" r="1.35" fill="#d81b60"/>
<circle cx="354.70" cy="282.40" r="1.30" fill="none" stroke="#d81b60" stroke-width="0.85"/>
<circle cx="357.10" cy="282.40" r="1.30" fill="none" stroke="#d81b60" stroke-width="0.85"/>
<circle cx="359.50" cy="282.40" r="1.30" fill="none" stroke="#d81b60" stroke-width="0.85"/>
<circle cx="357.10" cy="287.10" r="1.30" fill="none" stroke="#d81b60" stroke-width="0.85"/>
<circle cx="355.50" cy="289.10" r="1.30" fill="none" stroke="#d81b60" stroke-width="0.85"/>
<circle cx="357.90" cy="289.50" r="1.30" fill="none" stroke="#d81b60" stroke-width="0.85"/>
<circle cx="375.20" cy="225.10" r="1.35" fill="#2e6964"/>
<circle cx="373.40" cy="226.30" r="1.35" fill="#2e6964"/>
<circle cx="372.40" cy="229.80" r="1.35" fill="#2e6964"/>
<circle cx="374.00" cy="231.20" r="1.35" fill="#2e6964"/>
<circle cx="376.90" cy="231.60" r="1.35" fill="#2e6964"/>
<circle cx="383.20" cy="224.60" r="1.30" fill="none" stroke="#2e6964" stroke-width="0.85"/>
<circle cx="385.40" cy="225.10" r="1.30" fill="none" stroke="#2e6964" stroke-width="0.85"/>
<circle cx="387.50" cy="226.00" r="1.30" fill="none" stroke="#2e6964" stroke-width="0.85"/>
<circle cx="386.00" cy="229.10" r="1.30" fill="none" stroke="#2e6964" stroke-width="0.85"/>
<circle cx="384.00" cy="229.80" r="1.30" fill="none" stroke="#2e6964" stroke-width="0.85"/>
<line x1="311.00" y1="193.10" x2="311.00" y2="251.00" stroke="#2a2a2a" stroke-width="1"/>
<line x1="311.00" y1="257.25" x2="311.00" y2="294.00" stroke="#2a2a2a" stroke-width="1"/>
<line x1="308.40" y1="251.00" x2="313.60" y2="251.00" stroke="#2a2a2a" stroke-width="0.9"/>
<line x1="308.40" y1="257.25" x2="313.60" y2="257.25" stroke="#2a2a2a" stroke-width="0.9"/>
<line x1="308.30" y1="251.00" x2="311.00" y2="251.00" stroke="#2a2a2a" stroke-width="0.85"/>
<text x="305.25" y="253.2" font-size="6.4" text-anchor="end" font-weight="normal" font-style="normal" fill="#333">20</text>
<line x1="308.30" y1="237.15" x2="311.00" y2="237.15" stroke="#2a2a2a" stroke-width="0.85"/>
<text x="305.25" y="239.35" font-size="6.4" text-anchor="end" font-weight="normal" font-style="normal" fill="#333">40</text>
<line x1="308.30" y1="223.30" x2="311.00" y2="223.30" stroke="#2a2a2a" stroke-width="0.85"/>
<text x="305.25" y="225.5" font-size="6.4" text-anchor="end" font-weight="normal" font-style="normal" fill="#333">60</text>
<line x1="308.30" y1="209.45" x2="311.00" y2="209.45" stroke="#2a2a2a" stroke-width="0.85"/>
<text x="305.25" y="211.65" font-size="6.4" text-anchor="end" font-weight="normal" font-style="normal" fill="#333">80</text>
<line x1="308.30" y1="195.60" x2="311.00" y2="195.60" stroke="#2a2a2a" stroke-width="0.85"/>
<text x="305.25" y="197.8" font-size="6.4" text-anchor="end" font-weight="normal" font-style="normal" fill="#333">100</text>
<line x1="308.30" y1="293.70" x2="311.00" y2="293.70" stroke="#2a2a2a" stroke-width="0.85"/>
<text x="305.25" y="295.9" font-size="6.4" text-anchor="end" font-weight="normal" font-style="normal" fill="#333">0</text>
<line x1="308.30" y1="275.47" x2="311.00" y2="275.47" stroke="#2a2a2a" stroke-width="0.85"/>
<text x="305.25" y="277.67" font-size="6.4" text-anchor="end" font-weight="normal" font-style="normal" fill="#333">10</text>
<line x1="308.30" y1="257.25" x2="311.00" y2="257.25" stroke="#2a2a2a" stroke-width="0.85"/>
<text x="305.25" y="259.45" font-size="6.4" text-anchor="end" font-weight="normal" font-style="normal" fill="#333">20</text>
<line x1="310.50" y1="293.60" x2="393.00" y2="293.60" stroke="#2a2a2a" stroke-width="1"/>
<polyline points="316.25,199.6 316.25,197.4 329.6,197.4 329.6,199.6" fill="none" stroke="#2a2a2a" stroke-width="0.8"/>
<text x="322.93" y="197.2" font-size="6" text-anchor="middle" font-weight="normal" font-style="normal" fill="#333">**</text>
<text x="291.70" y="240.80" font-size="7.6" text-anchor="middle" fill="#333" transform="rotate(-90 291.70 240.80)" textLength="65.7" lengthAdjust="spacingAndGlyphs" style="stroke-width:0.36px">Peak height (nM thrombin)</text>
<text x="308.90" y="304.90" font-size="6.6" font-style="italic" text-anchor="end" fill="#333">F11</text>
<text x="317.0" y="304.9" font-size="6.5" text-anchor="middle" font-weight="normal" font-style="italic" fill="#333">+/+</text>
<line x1="318.30" y1="293.60" x2="318.30" y2="296.60" stroke="#2a2a2a" stroke-width="0.8"/>
<text x="329.35" y="304.9" font-size="6.5" text-anchor="middle" font-weight="normal" font-style="italic" fill="#333">−/−</text>
<line x1="328.85" y1="293.60" x2="328.85" y2="296.60" stroke="#2a2a2a" stroke-width="0.8"/>
<text x="345.05" y="304.9" font-size="6.5" text-anchor="middle" font-weight="normal" font-style="italic" fill="#333">+/+</text>
<line x1="346.35" y1="293.60" x2="346.35" y2="296.60" stroke="#2a2a2a" stroke-width="0.8"/>
<text x="357.6" y="304.9" font-size="6.5" text-anchor="middle" font-weight="normal" font-style="italic" fill="#333">−/−</text>
<line x1="357.10" y1="293.60" x2="357.10" y2="296.60" stroke="#2a2a2a" stroke-width="0.8"/>
<text x="373.2" y="304.9" font-size="6.5" text-anchor="middle" font-weight="normal" font-style="italic" fill="#333">+/+</text>
<line x1="374.50" y1="293.60" x2="374.50" y2="296.60" stroke="#2a2a2a" stroke-width="0.8"/>
<text x="385.85" y="304.9" font-size="6.5" text-anchor="middle" font-weight="normal" font-style="italic" fill="#333">−/−</text>
<line x1="385.35" y1="293.60" x2="385.35" y2="296.60" stroke="#2a2a2a" stroke-width="0.8"/>
<line x1="316.20" y1="309.30" x2="330.75" y2="309.30" stroke="#2a2a2a" stroke-width="0.95"/>
<text x="316.2" y="318.10" font-size="6.2" fill="#333" textLength="15.0" lengthAdjust="spacingAndGlyphs">Silica</text>
<line x1="342.05" y1="309.30" x2="361.10" y2="309.30" stroke="#2a2a2a" stroke-width="0.95"/>
<text x="337.0" y="318.10" font-size="6.2" fill="#333" textLength="30.0" lengthAdjust="spacingAndGlyphs">0.05pM TF</text>
<line x1="370.20" y1="309.30" x2="389.35" y2="309.30" stroke="#2a2a2a" stroke-width="0.95"/>
<text x="370.0" y="318.10" font-size="6.2" fill="#333" textLength="25.8" lengthAdjust="spacingAndGlyphs">0.5pM TF</text>
<text x="403.6" y="178.3" font-size="11" text-anchor="start" font-weight="bold" font-style="normal" fill="#111" style="stroke:#111;stroke-width:0.45px">H</text>
<rect x="437.35" y="214.22" width="7.00" height="36.78" fill="#989898"/>
<rect x="437.35" y="257.30" width="7.00" height="36.30" fill="#989898"/>
<rect x="447.70" y="292.00" width="7.00" height="1.60" fill="#989898"/>
<rect x="465.50" y="280.30" width="7.00" height="13.30" fill="#f0a2bf"/>
<rect x="476.00" y="281.00" width="7.00" height="12.60" fill="#f0a2bf"/>
<rect x="493.80" y="226.39" width="7.00" height="24.61" fill="#a5c4c3"/>
<rect x="493.80" y="257.30" width="7.00" height="36.30" fill="#a5c4c3"/>
<rect x="504.20" y="227.49" width="7.00" height="23.51" fill="#a5c4c3"/>
<rect x="504.20" y="257.30" width="7.00" height="36.30" fill="#a5c4c3"/>
<circle cx="440.70" cy="206.60" r="1.35" fill="#1a1a1a"/>
<circle cx="438.20" cy="214.20" r="1.35" fill="#1a1a1a"/>
<circle cx="443.50" cy="212.30" r="1.35" fill="#1a1a1a"/>
<circle cx="443.50" cy="216.60" r="1.35" fill="#1a1a1a"/>
<circle cx="440.70" cy="230.40" r="1.35" fill="#1a1a1a"/>
<circle cx="451.10" cy="281.40" r="1.30" fill="none" stroke="#1a1a1a" stroke-width="0.85"/>
<circle cx="451.10" cy="291.00" r="1.30" fill="none" stroke="#1a1a1a" stroke-width="0.85"/>
<circle cx="449.60" cy="293.00" r="1.30" fill="none" stroke="#1a1a1a" stroke-width="0.85"/>
<circle cx="452.60" cy="293.00" r="1.30" fill="none" stroke="#1a1a1a" stroke-width="0.85"/>
<circle cx="451.10" cy="293.30" r="1.30" fill="none" stroke="#1a1a1a" stroke-width="0.85"/>
<circle cx="466.80" cy="272.60" r="1.35" fill="#d81b60"/>
<circle cx="471.00" cy="272.60" r="1.35" fill="#d81b60"/>
<circle cx="466.80" cy="278.90" r="1.35" fill="#d81b60"/>
<circle cx="471.00" cy="280.30" r="1.35" fill="#d81b60"/>
<circle cx="469.00" cy="283.10" r="1.35" fill="#d81b60"/>
<circle cx="477.75" cy="278.20" r="1.30" fill="none" stroke="#d81b60" stroke-width="0.85"/>
<circle cx="481.70" cy="279.20" r="1.30" fill="none" stroke="#d81b60" stroke-width="0.85"/>
<circle cx="479.40" cy="280.70" r="1.30" fill="none" stroke="#d81b60" stroke-width="0.85"/>
<circle cx="480.30" cy="283.10" r="1.30" fill="none" stroke="#d81b60" stroke-width="0.85"/>
<circle cx="478.50" cy="284.90" r="1.30" fill="none" stroke="#d81b60" stroke-width="0.85"/>
<circle cx="497.30" cy="222.25" r="1.35" fill="#2e6964"/>
<circle cx="495.00" cy="226.40" r="1.35" fill="#2e6964"/>
<circle cx="499.20" cy="226.40" r="1.35" fill="#2e6964"/>
<circle cx="497.30" cy="228.40" r="1.35" fill="#2e6964"/>
<circle cx="497.30" cy="235.70" r="1.35" fill="#2e6964"/>
<circle cx="507.40" cy="215.25" r="1.30" fill="none" stroke="#2e6964" stroke-width="0.85"/>
<circle cx="505.20" cy="222.00" r="1.30" fill="none" stroke="#2e6964" stroke-width="0.85"/>
<circle cx="510.20" cy="223.70" r="1.30" fill="none" stroke="#2e6964" stroke-width="0.85"/>
<circle cx="505.20" cy="228.00" r="1.30" fill="none" stroke="#2e6964" stroke-width="0.85"/>
<circle cx="510.20" cy="228.80" r="1.30" fill="none" stroke="#2e6964" stroke-width="0.85"/>
<circle cx="507.40" cy="232.40" r="1.30" fill="none" stroke="#2e6964" stroke-width="0.85"/>
<line x1="433.50" y1="193.50" x2="433.50" y2="251.00" stroke="#2a2a2a" stroke-width="1"/>
<line x1="433.50" y1="257.30" x2="433.50" y2="294.00" stroke="#2a2a2a" stroke-width="1"/>
<line x1="430.90" y1="251.00" x2="436.10" y2="251.00" stroke="#2a2a2a" stroke-width="0.9"/>
<line x1="430.90" y1="257.30" x2="436.10" y2="257.30" stroke="#2a2a2a" stroke-width="0.9"/>
<line x1="430.80" y1="251.00" x2="433.50" y2="251.00" stroke="#2a2a2a" stroke-width="0.85"/>
<text x="427.75" y="253.2" font-size="6.4" text-anchor="end" font-weight="normal" font-style="normal" fill="#333">200</text>
<line x1="430.80" y1="237.25" x2="433.50" y2="237.25" stroke="#2a2a2a" stroke-width="0.85"/>
<text x="427.75" y="239.45" font-size="6.4" text-anchor="end" font-weight="normal" font-style="normal" fill="#333">400</text>
<line x1="430.80" y1="223.50" x2="433.50" y2="223.50" stroke="#2a2a2a" stroke-width="0.85"/>
<text x="427.75" y="225.7" font-size="6.4" text-anchor="end" font-weight="normal" font-style="normal" fill="#333">600</text>
<line x1="430.80" y1="209.75" x2="433.50" y2="209.75" stroke="#2a2a2a" stroke-width="0.85"/>
<text x="427.75" y="211.95" font-size="6.4" text-anchor="end" font-weight="normal" font-style="normal" fill="#333">800</text>
<line x1="430.80" y1="196.00" x2="433.50" y2="196.00" stroke="#2a2a2a" stroke-width="0.85"/>
<text x="427.75" y="198.2" font-size="6.4" text-anchor="end" font-weight="normal" font-style="normal" fill="#333">1000</text>
<line x1="430.80" y1="293.60" x2="433.50" y2="293.60" stroke="#2a2a2a" stroke-width="0.85"/>
<text x="427.75" y="295.8" font-size="6.4" text-anchor="end" font-weight="normal" font-style="normal" fill="#333">0</text>
<line x1="430.80" y1="275.45" x2="433.50" y2="275.45" stroke="#2a2a2a" stroke-width="0.85"/>
<text x="427.75" y="277.65" font-size="6.4" text-anchor="end" font-weight="normal" font-style="normal" fill="#333">100</text>
<line x1="430.80" y1="257.30" x2="433.50" y2="257.30" stroke="#2a2a2a" stroke-width="0.85"/>
<text x="427.75" y="259.5" font-size="6.4" text-anchor="end" font-weight="normal" font-style="normal" fill="#333">200</text>
<line x1="433.00" y1="293.60" x2="516.00" y2="293.60" stroke="#2a2a2a" stroke-width="1"/>
<polyline points="439.7,202.29999999999998 439.7,200.1 451.5,200.1 451.5,202.29999999999998" fill="none" stroke="#2a2a2a" stroke-width="0.8"/>
<text x="445.6" y="199.9" font-size="6" text-anchor="middle" font-weight="normal" font-style="normal" fill="#333">**</text>
<text x="408.80" y="241.60" font-size="7.6" text-anchor="middle" fill="#333" transform="rotate(-90 408.80 241.60)" textLength="47.1" lengthAdjust="spacingAndGlyphs" style="stroke-width:0.36px">ETP (nM* minute)</text>
<text x="431.30" y="304.90" font-size="6.6" font-style="italic" text-anchor="end" fill="#333">F11</text>
<text x="439.55" y="304.9" font-size="6.5" text-anchor="middle" font-weight="normal" font-style="italic" fill="#333">+/+</text>
<line x1="440.85" y1="293.60" x2="440.85" y2="296.60" stroke="#2a2a2a" stroke-width="0.8"/>
<text x="451.7" y="304.9" font-size="6.5" text-anchor="middle" font-weight="normal" font-style="italic" fill="#333">−/−</text>
<line x1="451.20" y1="293.60" x2="451.20" y2="296.60" stroke="#2a2a2a" stroke-width="0.8"/>
<text x="467.7" y="304.9" font-size="6.5" text-anchor="middle" font-weight="normal" font-style="italic" fill="#333">+/+</text>
<line x1="469.00" y1="293.60" x2="469.00" y2="296.60" stroke="#2a2a2a" stroke-width="0.8"/>
<text x="480.0" y="304.9" font-size="6.5" text-anchor="middle" font-weight="normal" font-style="italic" fill="#333">−/−</text>
<line x1="479.50" y1="293.60" x2="479.50" y2="296.60" stroke="#2a2a2a" stroke-width="0.8"/>
<text x="496.0" y="304.9" font-size="6.5" text-anchor="middle" font-weight="normal" font-style="italic" fill="#333">+/+</text>
<line x1="497.30" y1="293.60" x2="497.30" y2="296.60" stroke="#2a2a2a" stroke-width="0.8"/>
<text x="508.2" y="304.9" font-size="6.5" text-anchor="middle" font-weight="normal" font-style="italic" fill="#333">−/−</text>
<line x1="507.70" y1="293.60" x2="507.70" y2="296.60" stroke="#2a2a2a" stroke-width="0.8"/>
<line x1="438.75" y1="309.30" x2="453.10" y2="309.30" stroke="#2a2a2a" stroke-width="0.95"/>
<text x="439.1" y="318.10" font-size="6.2" fill="#333" textLength="14.6" lengthAdjust="spacingAndGlyphs">Silica</text>
<line x1="464.70" y1="309.30" x2="483.50" y2="309.30" stroke="#2a2a2a" stroke-width="0.95"/>
<text x="459.4" y="318.10" font-size="6.2" fill="#333" textLength="30.2" lengthAdjust="spacingAndGlyphs">0.05pM TF</text>
<line x1="493.00" y1="309.30" x2="511.70" y2="309.30" stroke="#2a2a2a" stroke-width="0.95"/>
<text x="492.2" y="318.10" font-size="6.2" fill="#333" textLength="25.8" lengthAdjust="spacingAndGlyphs">0.5pM TF</text>
</svg>
</body></html>
